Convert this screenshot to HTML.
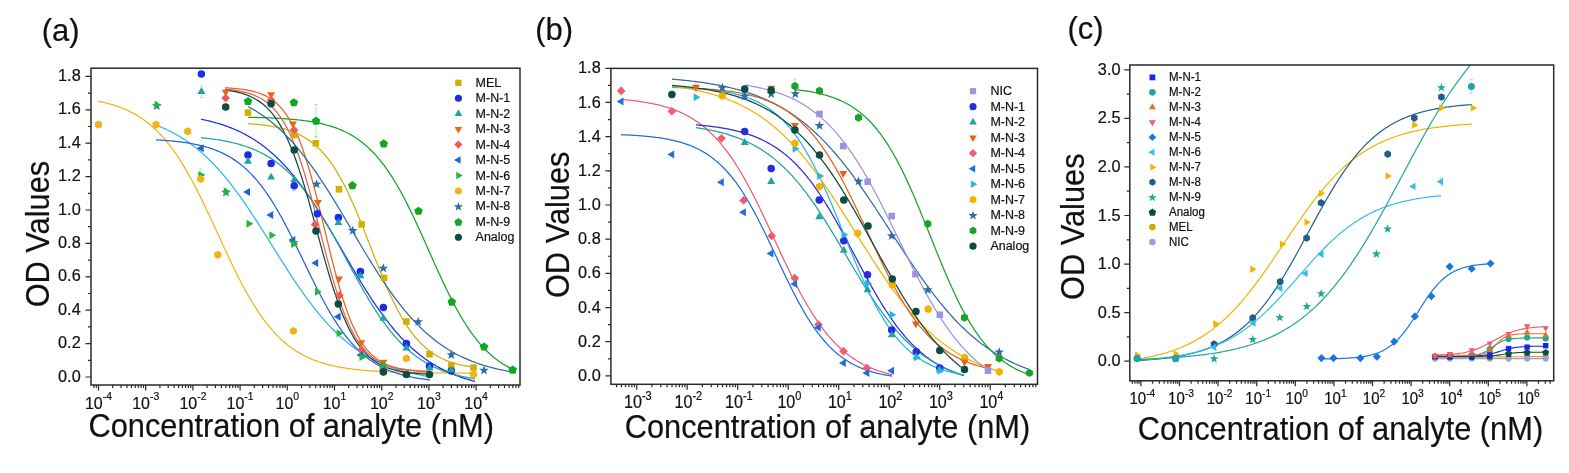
<!DOCTYPE html>
<html><head><meta charset="utf-8"><style>
html,body{margin:0;padding:0;background:#fff;width:1569px;height:473px;overflow:hidden}
svg{display:block;filter:blur(0.4px)}
text{font-family:"Liberation Sans",Arial,sans-serif;fill:#111;stroke:#111;stroke-width:0.2px}
</style></head><body>
<svg width="1569" height="473" viewBox="0 0 1569 473">
<clipPath id="ca"><rect x="91" y="68.2" width="429" height="316.8"/></clipPath>
<g clip-path="url(#ca)">
<path d="M98.00,101.22 L99.50,101.52 L101.00,101.83 L102.50,102.16 L104.00,102.50 L105.50,102.86 L107.00,103.23 L108.50,103.63 L110.00,104.04 L111.50,104.46 L113.00,104.91 L114.50,105.38 L116.00,105.86 L117.50,106.37 L119.00,106.90 L120.50,107.46 L122.00,108.04 L123.50,108.64 L125.00,109.27 L126.50,109.92 L128.00,110.61 L129.50,111.32 L131.00,112.07 L132.50,112.84 L134.00,113.65 L135.50,114.49 L137.00,115.37 L138.50,116.28 L140.00,117.22 L141.50,118.21 L143.00,119.24 L144.50,120.30 L146.00,121.41 L147.50,122.56 L149.00,123.75 L150.50,124.99 L152.00,126.28 L153.50,127.61 L155.00,128.99 L156.50,130.43 L158.00,131.91 L159.50,133.44 L161.00,135.03 L162.50,136.67 L164.00,138.37 L165.50,140.12 L167.00,141.93 L168.50,143.79 L170.00,145.72 L171.50,147.70 L173.00,149.74 L174.50,151.83 L176.00,153.99 L177.50,156.21 L179.00,158.48 L180.50,160.81 L182.00,163.21 L183.50,165.66 L185.00,168.16 L186.50,170.72 L188.00,173.34 L189.50,176.01 L191.00,178.74 L192.50,181.51 L194.00,184.34 L195.50,187.21 L197.00,190.13 L198.50,193.09 L200.00,196.10 L201.50,199.14 L203.00,202.22 L204.50,205.33 L206.00,208.47 L207.50,211.64 L209.00,214.83 L210.50,218.05 L212.00,221.28 L213.50,224.52 L215.00,227.77 L216.50,231.04 L218.00,234.30 L219.50,237.57 L221.00,240.83 L222.50,244.08 L224.00,247.32 L225.50,250.55 L227.00,253.76 L228.50,256.95 L230.00,260.11 L231.50,263.25 L233.00,266.35 L234.50,269.42 L236.00,272.46 L237.50,275.45 L239.00,278.41 L240.50,281.32 L242.00,284.18 L243.50,287.00 L245.00,289.77 L246.50,292.48 L248.00,295.14 L249.50,297.75 L251.00,300.30 L252.50,302.80 L254.00,305.24 L255.50,307.62 L257.00,309.94 L258.50,312.20 L260.00,314.41 L261.50,316.55 L263.00,318.64 L264.50,320.67 L266.00,322.64 L267.50,324.55 L269.00,326.41 L270.50,328.20 L272.00,329.94 L273.50,331.63 L275.00,333.26 L276.50,334.84 L278.00,336.36 L279.50,337.84 L281.00,339.26 L282.50,340.63 L284.00,341.96 L285.50,343.23 L287.00,344.46 L288.50,345.65 L290.00,346.79 L291.50,347.89 L293.00,348.95 L294.50,349.97 L296.00,350.95 L297.50,351.89 L299.00,352.79 L300.50,353.66 L302.00,354.49 L303.50,355.30 L305.00,356.06 L306.50,356.80 L308.00,357.51 L309.50,358.19 L311.00,358.84 L312.50,359.47 L314.00,360.06 L315.50,360.64 L317.00,361.19 L318.50,361.72 L320.00,362.22 L321.50,362.70 L323.00,363.17 L324.50,363.61 L326.00,364.03 L327.50,364.44 L329.00,364.83 L330.50,365.20 L332.00,365.55 L333.50,365.89 L335.00,366.22 L336.50,366.53 L338.00,366.83 L339.50,367.11 L341.00,367.38 L342.50,367.64 L344.00,367.89 L345.50,368.13 L347.00,368.36 L348.50,368.57 L350.00,368.78 L351.50,368.98 L353.00,369.17 L354.50,369.35 L356.00,369.52 L357.50,369.69 L359.00,369.85 L360.50,370.00 L362.00,370.14 L363.50,370.28 L365.00,370.41 L366.50,370.54 L368.00,370.66 L369.50,370.77 L371.00,370.88 L372.50,370.98 L374.00,371.08 L375.50,371.18 L377.00,371.27 L378.50,371.36 L380.00,371.44 L381.50,371.52 L383.00,371.59 L384.50,371.66 L386.00,371.73 L387.50,371.80 L389.00,371.86 L390.50,371.92 L392.00,371.98 L393.50,372.03 L395.00,372.08 L396.50,372.13 L398.00,372.18 L399.50,372.23 L401.00,372.27 L402.50,372.31 L404.00,372.35 L405.50,372.39 L407.00,372.42 L408.50,372.46 L410.00,372.49 L411.50,372.52 L413.00,372.55 L414.50,372.58 L416.00,372.61 L417.50,372.63 L419.00,372.66 L420.50,372.68 L422.00,372.70 L423.50,372.73 L425.00,372.75 L426.50,372.77 L428.00,372.78 L429.50,372.80 L431.00,372.82 L432.50,372.83 L434.00,372.85 L435.50,372.87 L437.00,372.88 L438.50,372.89 L440.00,372.91 L441.50,372.92 L443.00,372.93 L444.50,372.94 L446.00,372.95 L447.50,372.96 L449.00,372.97 L450.50,372.98 L452.00,372.99 L453.50,373.00 L455.00,373.01 L456.50,373.01 L458.00,373.02 L459.50,373.03 L461.00,373.03 L462.50,373.04 L464.00,373.05 L465.50,373.05 L467.00,373.06 L468.50,373.06 L470.00,373.07 L471.50,373.07 L473.00,373.08 L474.50,373.08 L475.00,373.08" fill="none" stroke="#F2B318" stroke-width="1.25"/>
<path d="M156.00,125.05 L157.50,125.63 L159.00,126.23 L160.50,126.85 L162.00,127.48 L163.50,128.14 L165.00,128.81 L166.50,129.50 L168.00,130.22 L169.50,130.95 L171.00,131.71 L172.50,132.49 L174.00,133.29 L175.50,134.11 L177.00,134.96 L178.50,135.83 L180.00,136.73 L181.50,137.65 L183.00,138.60 L184.50,139.57 L186.00,140.57 L187.50,141.59 L189.00,142.64 L190.50,143.72 L192.00,144.83 L193.50,145.97 L195.00,147.13 L196.50,148.33 L198.00,149.55 L199.50,150.80 L201.00,152.09 L202.50,153.40 L204.00,154.75 L205.50,156.12 L207.00,157.53 L208.50,158.97 L210.00,160.44 L211.50,161.95 L213.00,163.48 L214.50,165.05 L216.00,166.65 L217.50,168.28 L219.00,169.94 L220.50,171.64 L222.00,173.36 L223.50,175.12 L225.00,176.91 L226.50,178.73 L228.00,180.59 L229.50,182.47 L231.00,184.38 L232.50,186.32 L234.00,188.30 L235.50,190.30 L237.00,192.32 L238.50,194.38 L240.00,196.46 L241.50,198.57 L243.00,200.70 L244.50,202.86 L246.00,205.04 L247.50,207.25 L249.00,209.47 L250.50,211.72 L252.00,213.98 L253.50,216.26 L255.00,218.56 L256.50,220.88 L258.00,223.21 L259.50,225.55 L261.00,227.90 L262.50,230.27 L264.00,232.64 L265.50,235.03 L267.00,237.41 L268.50,239.81 L270.00,242.20 L271.50,244.60 L273.00,247.00 L274.50,249.40 L276.00,251.80 L277.50,254.19 L279.00,256.57 L280.50,258.96 L282.00,261.33 L283.50,263.69 L285.00,266.04 L286.50,268.38 L288.00,270.71 L289.50,273.02 L291.00,275.32 L292.50,277.60 L294.00,279.86 L295.50,282.10 L297.00,284.32 L298.50,286.52 L300.00,288.70 L301.50,290.85 L303.00,292.98 L304.50,295.09 L306.00,297.17 L307.50,299.22 L309.00,301.24 L310.50,303.24 L312.00,305.20 L313.50,307.14 L315.00,309.05 L316.50,310.93 L318.00,312.77 L319.50,314.59 L321.00,316.37 L322.50,318.13 L324.00,319.85 L325.50,321.54 L327.00,323.20 L328.50,324.82 L330.00,326.42 L331.50,327.98 L333.00,329.51 L334.50,331.00 L336.00,332.47 L337.50,333.90 L339.00,335.31 L340.50,336.68 L342.00,338.02 L343.50,339.33 L345.00,340.61 L346.50,341.86 L348.00,343.07 L349.50,344.26 L351.00,345.42 L352.50,346.56 L354.00,347.66 L355.50,348.73 L357.00,349.78 L358.50,350.80 L360.00,351.80 L361.50,352.76 L363.00,353.70 L364.50,354.62 L366.00,355.51 L367.50,356.38 L369.00,357.22 L370.50,358.04 L372.00,358.84 L373.50,359.62 L375.00,360.37 L376.50,361.10 L378.00,361.81 L379.50,362.50 L381.00,363.17 L382.50,363.82 L384.00,364.45 L385.50,365.07 L387.00,365.66 L388.50,366.24 L390.00,366.80 L391.50,367.34 L393.00,367.87 L394.50,368.38 L396.00,368.87 L397.50,369.35 L399.00,369.82 L400.50,370.27 L402.00,370.71 L403.50,371.13 L405.00,371.54 L406.50,371.94 L408.00,372.32 L409.50,372.70 L411.00,373.06 L412.50,373.41 L414.00,373.75 L415.50,374.08 L417.00,374.39 L418.50,374.70 L420.00,375.00 L421.50,375.29 L423.00,375.57 L424.50,375.84 L426.00,376.10 L427.50,376.35 L429.00,376.59 L430.00,376.75" fill="none" stroke="#2DB8E8" stroke-width="1.25"/>
<path d="M156.00,139.83 L157.50,139.91 L159.00,140.00 L160.50,140.10 L162.00,140.20 L163.50,140.31 L165.00,140.42 L166.50,140.53 L168.00,140.66 L169.50,140.78 L171.00,140.92 L172.50,141.06 L174.00,141.21 L175.50,141.37 L177.00,141.53 L178.50,141.70 L180.00,141.89 L181.50,142.08 L183.00,142.28 L184.50,142.49 L186.00,142.71 L187.50,142.94 L189.00,143.19 L190.50,143.44 L192.00,143.71 L193.50,143.99 L195.00,144.29 L196.50,144.60 L198.00,144.93 L199.50,145.27 L201.00,145.63 L202.50,146.00 L204.00,146.40 L205.50,146.81 L207.00,147.24 L208.50,147.70 L210.00,148.17 L211.50,148.67 L213.00,149.19 L214.50,149.74 L216.00,150.31 L217.50,150.91 L219.00,151.54 L220.50,152.20 L222.00,152.88 L223.50,153.60 L225.00,154.35 L226.50,155.14 L228.00,155.96 L229.50,156.81 L231.00,157.70 L232.50,158.64 L234.00,159.61 L235.50,160.62 L237.00,161.68 L238.50,162.78 L240.00,163.92 L241.50,165.12 L243.00,166.36 L244.50,167.65 L246.00,168.99 L247.50,170.38 L249.00,171.83 L250.50,173.33 L252.00,174.89 L253.50,176.50 L255.00,178.17 L256.50,179.89 L258.00,181.68 L259.50,183.52 L261.00,185.43 L262.50,187.39 L264.00,189.42 L265.50,191.50 L267.00,193.65 L268.50,195.86 L270.00,198.12 L271.50,200.45 L273.00,202.84 L274.50,205.28 L276.00,207.78 L277.50,210.33 L279.00,212.94 L280.50,215.60 L282.00,218.31 L283.50,221.07 L285.00,223.88 L286.50,226.73 L288.00,229.61 L289.50,232.54 L291.00,235.50 L292.50,238.49 L294.00,241.51 L295.50,244.55 L297.00,247.61 L298.50,250.69 L300.00,253.78 L301.50,256.88 L303.00,259.99 L304.50,263.09 L306.00,266.20 L307.50,269.29 L309.00,272.38 L310.50,275.45 L312.00,278.50 L313.50,281.53 L315.00,284.53 L316.50,287.51 L318.00,290.45 L319.50,293.35 L321.00,296.22 L322.50,299.04 L324.00,301.82 L325.50,304.56 L327.00,307.24 L328.50,309.87 L330.00,312.45 L331.50,314.97 L333.00,317.44 L334.50,319.85 L336.00,322.21 L337.50,324.50 L339.00,326.74 L340.50,328.91 L342.00,331.02 L343.50,333.07 L345.00,335.07 L346.50,337.00 L348.00,338.87 L349.50,340.68 L351.00,342.43 L352.50,344.13 L354.00,345.77 L355.50,347.35 L357.00,348.87 L358.50,350.34 L360.00,351.76 L361.50,353.12 L363.00,354.44 L364.50,355.70 L366.00,356.91 L367.50,358.08 L369.00,359.20 L370.50,360.28 L372.00,361.31 L373.50,362.30 L375.00,363.25 L376.50,364.16 L378.00,365.03 L379.50,365.87 L381.00,366.67 L382.50,367.43 L384.00,368.16 L385.50,368.86 L387.00,369.53 L388.50,370.17 L390.00,370.79 L391.50,371.37 L393.00,371.93 L394.50,372.46 L396.00,372.97 L397.50,373.46 L399.00,373.92 L400.50,374.36 L402.00,374.79 L403.50,375.19 L405.00,375.57 L406.50,375.94 L408.00,376.29 L409.50,376.62 L411.00,376.94 L412.50,377.24 L414.00,377.53 L415.50,377.80 L417.00,378.07 L418.50,378.31 L420.00,378.55 L421.50,378.78 L423.00,378.99 L424.50,379.20 L426.00,379.39 L427.50,379.58 L429.00,379.76 L430.00,379.87" fill="none" stroke="#1F63D6" stroke-width="1.25"/>
<path d="M201.00,119.18 L202.50,119.49 L204.00,119.81 L205.50,120.14 L207.00,120.49 L208.50,120.84 L210.00,121.21 L211.50,121.59 L213.00,121.98 L214.50,122.39 L216.00,122.81 L217.50,123.25 L219.00,123.70 L220.50,124.16 L222.00,124.64 L223.50,125.14 L225.00,125.65 L226.50,126.18 L228.00,126.73 L229.50,127.30 L231.00,127.88 L232.50,128.49 L234.00,129.11 L235.50,129.75 L237.00,130.42 L238.50,131.10 L240.00,131.81 L241.50,132.54 L243.00,133.29 L244.50,134.07 L246.00,134.87 L247.50,135.69 L249.00,136.54 L250.50,137.42 L252.00,138.32 L253.50,139.25 L255.00,140.21 L256.50,141.19 L258.00,142.20 L259.50,143.24 L261.00,144.32 L262.50,145.42 L264.00,146.55 L265.50,147.71 L267.00,148.91 L268.50,150.14 L270.00,151.40 L271.50,152.69 L273.00,154.02 L274.50,155.38 L276.00,156.78 L277.50,158.21 L279.00,159.67 L280.50,161.17 L282.00,162.71 L283.50,164.28 L285.00,165.89 L286.50,167.54 L288.00,169.22 L289.50,170.93 L291.00,172.69 L292.50,174.48 L294.00,176.30 L295.50,178.16 L297.00,180.06 L298.50,181.99 L300.00,183.96 L301.50,185.96 L303.00,188.00 L304.50,190.07 L306.00,192.18 L307.50,194.31 L309.00,196.48 L310.50,198.68 L312.00,200.91 L313.50,203.17 L315.00,205.46 L316.50,207.78 L318.00,210.12 L319.50,212.48 L321.00,214.88 L322.50,217.29 L324.00,219.73 L325.50,222.18 L327.00,224.66 L328.50,227.15 L330.00,229.65 L331.50,232.18 L333.00,234.71 L334.50,237.25 L336.00,239.81 L337.50,242.37 L339.00,244.94 L340.50,247.51 L342.00,250.09 L343.50,252.66 L345.00,255.24 L346.50,257.81 L348.00,260.38 L349.50,262.94 L351.00,265.49 L352.50,268.04 L354.00,270.57 L355.50,273.09 L357.00,275.60 L358.50,278.09 L360.00,280.57 L361.50,283.02 L363.00,285.46 L364.50,287.87 L366.00,290.26 L367.50,292.63 L369.00,294.97 L370.50,297.28 L372.00,299.57 L373.50,301.83 L375.00,304.06 L376.50,306.26 L378.00,308.43 L379.50,310.56 L381.00,312.67 L382.50,314.74 L384.00,316.77 L385.50,318.78 L387.00,320.74 L388.50,322.68 L390.00,324.57 L391.50,326.43 L393.00,328.26 L394.50,330.05 L396.00,331.80 L397.50,333.52 L399.00,335.20 L400.50,336.84 L402.00,338.45 L403.50,340.02 L405.00,341.56 L406.50,343.06 L408.00,344.52 L409.50,345.95 L411.00,347.35 L412.50,348.71 L414.00,350.03 L415.50,351.33 L417.00,352.59 L418.50,353.81 L420.00,355.01 L421.50,356.17 L423.00,357.30 L424.50,358.41 L426.00,359.48 L427.50,360.52 L429.00,361.53 L430.50,362.51 L432.00,363.47 L433.50,364.40 L435.00,365.30 L436.50,366.17 L438.00,367.02 L439.50,367.85 L441.00,368.65 L442.50,369.42 L444.00,370.17 L445.50,370.90 L447.00,371.61 L448.50,372.30 L450.00,372.96 L451.50,373.60 L453.00,374.23 L454.50,374.83 L456.00,375.41 L457.50,375.98 L459.00,376.53 L460.50,377.06 L462.00,377.57 L463.50,378.07 L465.00,378.55 L466.50,379.01 L468.00,379.46 L469.50,379.90 L471.00,380.32 L472.50,380.73 L474.00,381.12 L475.00,381.37" fill="none" stroke="#1A2EE8" stroke-width="1.25"/>
<path d="M201.00,137.72 L202.50,137.87 L204.00,138.02 L205.50,138.18 L207.00,138.35 L208.50,138.53 L210.00,138.71 L211.50,138.90 L213.00,139.10 L214.50,139.31 L216.00,139.52 L217.50,139.75 L219.00,139.99 L220.50,140.23 L222.00,140.49 L223.50,140.76 L225.00,141.04 L226.50,141.33 L228.00,141.64 L229.50,141.96 L231.00,142.29 L232.50,142.63 L234.00,142.99 L235.50,143.37 L237.00,143.76 L238.50,144.17 L240.00,144.60 L241.50,145.04 L243.00,145.50 L244.50,145.98 L246.00,146.48 L247.50,147.00 L249.00,147.55 L250.50,148.11 L252.00,148.70 L253.50,149.31 L255.00,149.95 L256.50,150.61 L258.00,151.29 L259.50,152.01 L261.00,152.75 L262.50,153.52 L264.00,154.32 L265.50,155.15 L267.00,156.02 L268.50,156.91 L270.00,157.84 L271.50,158.80 L273.00,159.80 L274.50,160.83 L276.00,161.90 L277.50,163.01 L279.00,164.16 L280.50,165.35 L282.00,166.58 L283.50,167.84 L285.00,169.16 L286.50,170.51 L288.00,171.91 L289.50,173.35 L291.00,174.84 L292.50,176.37 L294.00,177.95 L295.50,179.57 L297.00,181.24 L298.50,182.96 L300.00,184.73 L301.50,186.55 L303.00,188.41 L304.50,190.32 L306.00,192.28 L307.50,194.28 L309.00,196.33 L310.50,198.43 L312.00,200.58 L313.50,202.77 L315.00,205.00 L316.50,207.28 L318.00,209.60 L319.50,211.96 L321.00,214.37 L322.50,216.81 L324.00,219.29 L325.50,221.81 L327.00,224.35 L328.50,226.94 L330.00,229.55 L331.50,232.19 L333.00,234.85 L334.50,237.54 L336.00,240.25 L337.50,242.98 L339.00,245.72 L340.50,248.48 L342.00,251.24 L343.50,254.02 L345.00,256.80 L346.50,259.58 L348.00,262.37 L349.50,265.15 L351.00,267.92 L352.50,270.68 L354.00,273.44 L355.50,276.18 L357.00,278.90 L358.50,281.61 L360.00,284.29 L361.50,286.95 L363.00,289.59 L364.50,292.19 L366.00,294.77 L367.50,297.31 L369.00,299.82 L370.50,302.29 L372.00,304.72 L373.50,307.12 L375.00,309.47 L376.50,311.79 L378.00,314.06 L379.50,316.28 L381.00,318.46 L382.50,320.60 L384.00,322.69 L385.50,324.73 L387.00,326.73 L388.50,328.68 L390.00,330.58 L391.50,332.43 L393.00,334.23 L394.50,335.99 L396.00,337.70 L397.50,339.36 L399.00,340.98 L400.50,342.55 L402.00,344.07 L403.50,345.55 L405.00,346.98 L406.50,348.37 L408.00,349.72 L409.50,351.02 L411.00,352.28 L412.50,353.50 L414.00,354.68 L415.50,355.82 L417.00,356.92 L418.50,357.98 L420.00,359.01 L421.50,360.00 L423.00,360.96 L424.50,361.88 L426.00,362.77 L427.50,363.62 L429.00,364.45 L430.50,365.24 L432.00,366.01 L433.50,366.74 L435.00,367.45 L436.50,368.13 L438.00,368.79 L439.50,369.42 L441.00,370.03 L442.50,370.61 L444.00,371.17 L445.50,371.71 L447.00,372.23 L448.50,372.72 L450.00,373.20 L451.50,373.66 L453.00,374.10 L454.50,374.52 L456.00,374.92 L457.50,375.31 L459.00,375.69 L460.50,376.04 L462.00,376.39 L463.50,376.72 L465.00,377.03 L466.50,377.33 L468.00,377.62 L469.50,377.90 L471.00,378.17 L472.50,378.42 L474.00,378.67 L475.00,378.83" fill="none" stroke="#1FA3A3" stroke-width="1.25"/>
<path d="M248.00,117.25 L249.50,117.28 L251.00,117.31 L252.50,117.35 L254.00,117.39 L255.50,117.42 L257.00,117.47 L258.50,117.51 L260.00,117.55 L261.50,117.60 L263.00,117.65 L264.50,117.70 L266.00,117.76 L267.50,117.81 L269.00,117.88 L270.50,117.94 L272.00,118.01 L273.50,118.08 L275.00,118.15 L276.50,118.23 L278.00,118.31 L279.50,118.40 L281.00,118.49 L282.50,118.58 L284.00,118.68 L285.50,118.79 L287.00,118.90 L288.50,119.01 L290.00,119.13 L291.50,119.26 L293.00,119.40 L294.50,119.54 L296.00,119.69 L297.50,119.84 L299.00,120.00 L300.50,120.18 L302.00,120.36 L303.50,120.55 L305.00,120.75 L306.50,120.96 L308.00,121.17 L309.50,121.41 L311.00,121.65 L312.50,121.90 L314.00,122.17 L315.50,122.45 L317.00,122.74 L318.50,123.05 L320.00,123.37 L321.50,123.71 L323.00,124.07 L324.50,124.44 L326.00,124.83 L327.50,125.24 L329.00,125.67 L330.50,126.13 L332.00,126.60 L333.50,127.09 L335.00,127.61 L336.50,128.16 L338.00,128.72 L339.50,129.32 L341.00,129.94 L342.50,130.60 L344.00,131.28 L345.50,131.99 L347.00,132.74 L348.50,133.52 L350.00,134.33 L351.50,135.19 L353.00,136.08 L354.50,137.01 L356.00,137.98 L357.50,138.99 L359.00,140.04 L360.50,141.14 L362.00,142.29 L363.50,143.48 L365.00,144.73 L366.50,146.02 L368.00,147.36 L369.50,148.76 L371.00,150.22 L372.50,151.73 L374.00,153.29 L375.50,154.92 L377.00,156.60 L378.50,158.35 L380.00,160.16 L381.50,162.03 L383.00,163.96 L384.50,165.95 L386.00,168.02 L387.50,170.14 L389.00,172.34 L390.50,174.59 L392.00,176.92 L393.50,179.30 L395.00,181.76 L396.50,184.27 L398.00,186.86 L399.50,189.50 L401.00,192.20 L402.50,194.97 L404.00,197.79 L405.50,200.67 L407.00,203.61 L408.50,206.60 L410.00,209.63 L411.50,212.72 L413.00,215.84 L414.50,219.01 L416.00,222.22 L417.50,225.46 L419.00,228.73 L420.50,232.03 L422.00,235.36 L423.50,238.70 L425.00,242.05 L426.50,245.42 L428.00,248.79 L429.50,252.17 L431.00,255.54 L432.50,258.91 L434.00,262.26 L435.50,265.60 L437.00,268.92 L438.50,272.22 L440.00,275.49 L441.50,278.74 L443.00,281.94 L444.50,285.11 L446.00,288.24 L447.50,291.32 L449.00,294.36 L450.50,297.35 L452.00,300.28 L453.50,303.16 L455.00,305.98 L456.50,308.75 L458.00,311.45 L459.50,314.10 L461.00,316.68 L462.50,319.20 L464.00,321.65 L465.50,324.04 L467.00,326.36 L468.50,328.62 L470.00,330.81 L471.50,332.93 L473.00,335.00 L474.50,336.99 L476.00,338.92 L477.50,340.79 L479.00,342.60 L480.50,344.35 L482.00,346.03 L483.50,347.65 L485.00,349.22 L486.50,350.73 L488.00,352.18 L489.50,353.58 L491.00,354.93 L492.50,356.22 L494.00,357.46 L495.50,358.66 L497.00,359.80 L498.50,360.90 L500.00,361.96 L501.50,362.97 L503.00,363.94 L504.50,364.87 L506.00,365.76 L507.50,366.61 L509.00,367.42 L510.50,368.20 L512.00,368.95 L513.00,369.43" fill="none" stroke="#12A622" stroke-width="1.25"/>
<path d="M248.00,123.69 L249.50,123.79 L251.00,123.90 L252.50,124.01 L254.00,124.13 L255.50,124.25 L257.00,124.39 L258.50,124.53 L260.00,124.68 L261.50,124.84 L263.00,125.01 L264.50,125.20 L266.00,125.39 L267.50,125.59 L269.00,125.81 L270.50,126.05 L272.00,126.29 L273.50,126.55 L275.00,126.83 L276.50,127.13 L278.00,127.44 L279.50,127.77 L281.00,128.12 L282.50,128.50 L284.00,128.89 L285.50,129.31 L287.00,129.76 L288.50,130.23 L290.00,130.73 L291.50,131.26 L293.00,131.83 L294.50,132.42 L296.00,133.05 L297.50,133.72 L299.00,134.42 L300.50,135.17 L302.00,135.96 L303.50,136.79 L305.00,137.67 L306.50,138.60 L308.00,139.58 L309.50,140.62 L311.00,141.71 L312.50,142.86 L314.00,144.07 L315.50,145.35 L317.00,146.69 L318.50,148.10 L320.00,149.58 L321.50,151.13 L323.00,152.76 L324.50,154.47 L326.00,156.25 L327.50,158.12 L329.00,160.08 L330.50,162.12 L332.00,164.25 L333.50,166.47 L335.00,168.77 L336.50,171.17 L338.00,173.66 L339.50,176.25 L341.00,178.92 L342.50,181.69 L344.00,184.55 L345.50,187.50 L347.00,190.53 L348.50,193.66 L350.00,196.86 L351.50,200.15 L353.00,203.51 L354.50,206.95 L356.00,210.45 L357.50,214.02 L359.00,217.65 L360.50,221.33 L362.00,225.05 L363.50,228.82 L365.00,232.61 L366.50,236.44 L368.00,240.28 L369.50,244.14 L371.00,248.00 L372.50,251.85 L374.00,255.70 L375.50,259.53 L377.00,263.33 L378.50,267.11 L380.00,270.84 L381.50,274.53 L383.00,278.16 L384.50,281.74 L386.00,285.26 L387.50,288.71 L389.00,292.08 L390.50,295.38 L392.00,298.60 L393.50,301.74 L395.00,304.79 L396.50,307.76 L398.00,310.63 L399.50,313.42 L401.00,316.11 L402.50,318.71 L404.00,321.22 L405.50,323.63 L407.00,325.96 L408.50,328.19 L410.00,330.34 L411.50,332.39 L413.00,334.36 L414.50,336.25 L416.00,338.05 L417.50,339.77 L419.00,341.41 L420.50,342.98 L422.00,344.47 L423.50,345.90 L425.00,347.25 L426.50,348.54 L428.00,349.76 L429.50,350.92 L431.00,352.02 L432.50,353.07 L434.00,354.06 L435.50,355.00 L437.00,355.88 L438.50,356.73 L440.00,357.52 L441.50,358.28 L443.00,358.99 L444.50,359.66 L446.00,360.30 L447.50,360.90 L449.00,361.47 L450.50,362.01 L452.00,362.51 L453.50,362.99 L455.00,363.44 L456.50,363.87 L458.00,364.27 L459.50,364.64 L461.00,365.00 L462.50,365.34 L464.00,365.65 L465.50,365.95 L467.00,366.23 L468.50,366.49 L470.00,366.74 L471.50,366.98 L473.00,367.20 L474.00,367.34" fill="none" stroke="#D0B000" stroke-width="1.25"/>
<path d="M225.00,87.80 L226.50,87.88 L228.00,87.97 L229.50,88.06 L231.00,88.16 L232.50,88.27 L234.00,88.39 L235.50,88.52 L237.00,88.67 L238.50,88.82 L240.00,89.00 L241.50,89.18 L243.00,89.38 L244.50,89.61 L246.00,89.85 L247.50,90.11 L249.00,90.39 L250.50,90.70 L252.00,91.04 L253.50,91.41 L255.00,91.81 L256.50,92.25 L258.00,92.72 L259.50,93.24 L261.00,93.80 L262.50,94.41 L264.00,95.07 L265.50,95.79 L267.00,96.57 L268.50,97.42 L270.00,98.33 L271.50,99.33 L273.00,100.40 L274.50,101.57 L276.00,102.83 L277.50,104.19 L279.00,105.66 L280.50,107.25 L282.00,108.96 L283.50,110.80 L285.00,112.78 L286.50,114.90 L288.00,117.18 L289.50,119.62 L291.00,122.24 L292.50,125.02 L294.00,128.00 L295.50,131.16 L297.00,134.52 L298.50,138.08 L300.00,141.85 L301.50,145.82 L303.00,150.01 L304.50,154.40 L306.00,158.99 L307.50,163.79 L309.00,168.79 L310.50,173.98 L312.00,179.34 L313.50,184.88 L315.00,190.56 L316.50,196.38 L318.00,202.33 L319.50,208.37 L321.00,214.49 L322.50,220.66 L324.00,226.87 L325.50,233.09 L327.00,239.30 L328.50,245.47 L330.00,251.58 L331.50,257.60 L333.00,263.53 L334.50,269.33 L336.00,274.99 L337.50,280.50 L339.00,285.84 L340.50,290.99 L342.00,295.96 L343.50,300.72 L345.00,305.29 L346.50,309.65 L348.00,313.79 L349.50,317.73 L351.00,321.47 L352.50,325.00 L354.00,328.32 L355.50,331.46 L357.00,334.40 L358.50,337.16 L360.00,339.74 L361.50,342.16 L363.00,344.41 L364.50,346.51 L366.00,348.47 L367.50,350.29 L369.00,351.98 L370.50,353.54 L372.00,355.00 L373.50,356.34 L375.00,357.58 L376.50,358.73 L378.00,359.80 L379.50,360.78 L381.00,361.68 L382.50,362.52 L384.00,363.29 L385.50,364.00 L387.00,364.65 L388.50,365.25 L390.00,365.81 L391.50,366.32 L393.00,366.78 L394.50,367.21 L396.00,367.61 L397.50,367.97 L399.00,368.31 L400.50,368.61 L402.00,368.89 L403.50,369.15 L405.00,369.39 L406.50,369.61 L408.00,369.81 L409.50,369.99 L411.00,370.16 L412.50,370.31 L414.00,370.46 L415.50,370.59 L417.00,370.71 L418.50,370.82 L420.00,370.92 L421.50,371.01 L423.00,371.09 L424.50,371.17 L426.00,371.24 L427.50,371.31 L429.00,371.36 L430.00,371.40" fill="none" stroke="#E8661A" stroke-width="1.25"/>
<path d="M225.00,89.24 L226.50,89.37 L228.00,89.51 L229.50,89.67 L231.00,89.84 L232.50,90.02 L234.00,90.22 L235.50,90.44 L237.00,90.67 L238.50,90.93 L240.00,91.20 L241.50,91.50 L243.00,91.82 L244.50,92.17 L246.00,92.55 L247.50,92.96 L249.00,93.40 L250.50,93.88 L252.00,94.40 L253.50,94.97 L255.00,95.57 L256.50,96.23 L258.00,96.94 L259.50,97.71 L261.00,98.53 L262.50,99.43 L264.00,100.39 L265.50,101.43 L267.00,102.55 L268.50,103.75 L270.00,105.05 L271.50,106.44 L273.00,107.94 L274.50,109.54 L276.00,111.26 L277.50,113.10 L279.00,115.08 L280.50,117.19 L282.00,119.44 L283.50,121.83 L285.00,124.39 L286.50,127.10 L288.00,129.98 L289.50,133.04 L291.00,136.27 L292.50,139.68 L294.00,143.27 L295.50,147.05 L297.00,151.01 L298.50,155.16 L300.00,159.49 L301.50,164.00 L303.00,168.69 L304.50,173.55 L306.00,178.57 L307.50,183.74 L309.00,189.05 L310.50,194.48 L312.00,200.04 L313.50,205.68 L315.00,211.41 L316.50,217.20 L318.00,223.04 L319.50,228.90 L321.00,234.76 L322.50,240.60 L324.00,246.41 L325.50,252.17 L327.00,257.85 L328.50,263.44 L330.00,268.93 L331.50,274.29 L333.00,279.52 L334.50,284.60 L336.00,289.52 L337.50,294.28 L339.00,298.86 L340.50,303.26 L342.00,307.49 L343.50,311.52 L345.00,315.37 L346.50,319.04 L348.00,322.52 L349.50,325.82 L351.00,328.94 L352.50,331.89 L354.00,334.67 L355.50,337.29 L357.00,339.75 L358.50,342.06 L360.00,344.22 L361.50,346.25 L363.00,348.14 L364.50,349.91 L366.00,351.56 L367.50,353.10 L369.00,354.53 L370.50,355.87 L372.00,357.11 L373.50,358.26 L375.00,359.33 L376.50,360.32 L378.00,361.24 L379.50,362.09 L381.00,362.88 L382.50,363.62 L384.00,364.29 L385.50,364.92 L387.00,365.50 L388.50,366.04 L390.00,366.53 L391.50,366.99 L393.00,367.41 L394.50,367.80 L396.00,368.16 L397.50,368.50 L399.00,368.81 L400.50,369.09 L402.00,369.35 L403.50,369.59 L405.00,369.82 L406.50,370.02 L408.00,370.21 L409.50,370.39 L411.00,370.55 L412.50,370.70 L414.00,370.83 L415.50,370.96 L417.00,371.08 L418.50,371.18 L420.00,371.28 L421.50,371.37 L423.00,371.46 L424.50,371.53 L426.00,371.60 L427.50,371.67 L429.00,371.73 L430.00,371.77" fill="none" stroke="#F25A5A" stroke-width="1.25"/>
<path d="M225.00,89.93 L226.50,90.13 L228.00,90.35 L229.50,90.58 L231.00,90.83 L232.50,91.10 L234.00,91.39 L235.50,91.70 L237.00,92.04 L238.50,92.40 L240.00,92.80 L241.50,93.22 L243.00,93.67 L244.50,94.16 L246.00,94.69 L247.50,95.26 L249.00,95.87 L250.50,96.52 L252.00,97.23 L253.50,97.98 L255.00,98.80 L256.50,99.67 L258.00,100.61 L259.50,101.62 L261.00,102.69 L262.50,103.85 L264.00,105.09 L265.50,106.41 L267.00,107.83 L268.50,109.34 L270.00,110.96 L271.50,112.68 L273.00,114.52 L274.50,116.47 L276.00,118.55 L277.50,120.76 L279.00,123.10 L280.50,125.59 L282.00,128.22 L283.50,130.99 L285.00,133.93 L286.50,137.02 L288.00,140.27 L289.50,143.68 L291.00,147.25 L292.50,151.00 L294.00,154.90 L295.50,158.97 L297.00,163.20 L298.50,167.59 L300.00,172.13 L301.50,176.82 L303.00,181.64 L304.50,186.60 L306.00,191.68 L307.50,196.86 L309.00,202.14 L310.50,207.51 L312.00,212.94 L313.50,218.43 L315.00,223.96 L316.50,229.50 L318.00,235.06 L319.50,240.60 L321.00,246.11 L322.50,251.58 L324.00,256.99 L325.50,262.33 L327.00,267.58 L328.50,272.72 L330.00,277.76 L331.50,282.67 L333.00,287.44 L334.50,292.08 L336.00,296.56 L337.50,300.89 L339.00,305.07 L340.50,309.08 L342.00,312.92 L343.50,316.60 L345.00,320.12 L346.50,323.47 L348.00,326.67 L349.50,329.70 L351.00,332.57 L352.50,335.30 L354.00,337.87 L355.50,340.30 L357.00,342.60 L358.50,344.76 L360.00,346.79 L361.50,348.70 L363.00,350.50 L364.50,352.18 L366.00,353.76 L367.50,355.23 L369.00,356.62 L370.50,357.91 L372.00,359.12 L373.50,360.24 L375.00,361.29 L376.50,362.28 L378.00,363.19 L379.50,364.04 L381.00,364.83 L382.50,365.57 L384.00,366.26 L385.50,366.90 L387.00,367.49 L388.50,368.04 L390.00,368.56 L391.50,369.03 L393.00,369.48 L394.50,369.89 L396.00,370.27 L397.50,370.62 L399.00,370.95 L400.50,371.26 L402.00,371.54 L403.50,371.80 L405.00,372.04 L406.50,372.27 L408.00,372.48 L409.50,372.67 L411.00,372.85 L412.50,373.02 L414.00,373.17 L415.50,373.31 L417.00,373.45 L418.50,373.57 L420.00,373.68 L421.50,373.79 L423.00,373.89 L424.50,373.98 L426.00,374.06 L427.50,374.14 L429.00,374.21 L430.00,374.26" fill="none" stroke="#0B4D3E" stroke-width="1.25"/>
<path d="M248.00,106.46 L249.50,107.28 L251.00,108.11 L252.50,108.97 L254.00,109.86 L255.50,110.77 L257.00,111.71 L258.50,112.67 L260.00,113.65 L261.50,114.67 L263.00,115.71 L264.50,116.78 L266.00,117.87 L267.50,119.00 L269.00,120.15 L270.50,121.33 L272.00,122.55 L273.50,123.79 L275.00,125.06 L276.50,126.37 L278.00,127.70 L279.50,129.07 L281.00,130.47 L282.50,131.90 L284.00,133.36 L285.50,134.86 L287.00,136.39 L288.50,137.95 L290.00,139.54 L291.50,141.17 L293.00,142.83 L294.50,144.53 L296.00,146.25 L297.50,148.02 L299.00,149.81 L300.50,151.64 L302.00,153.50 L303.50,155.39 L305.00,157.32 L306.50,159.28 L308.00,161.27 L309.50,163.29 L311.00,165.34 L312.50,167.43 L314.00,169.54 L315.50,171.68 L317.00,173.86 L318.50,176.06 L320.00,178.28 L321.50,180.54 L323.00,182.82 L324.50,185.12 L326.00,187.45 L327.50,189.80 L329.00,192.17 L330.50,194.56 L332.00,196.97 L333.50,199.40 L335.00,201.85 L336.50,204.31 L338.00,206.79 L339.50,209.28 L341.00,211.79 L342.50,214.30 L344.00,216.82 L345.50,219.35 L347.00,221.89 L348.50,224.43 L350.00,226.97 L351.50,229.52 L353.00,232.07 L354.50,234.61 L356.00,237.15 L357.50,239.69 L359.00,242.23 L360.50,244.75 L362.00,247.27 L363.50,249.78 L365.00,252.27 L366.50,254.76 L368.00,257.23 L369.50,259.68 L371.00,262.12 L372.50,264.54 L374.00,266.94 L375.50,269.32 L377.00,271.68 L378.50,274.02 L380.00,276.34 L381.50,278.63 L383.00,280.89 L384.50,283.13 L386.00,285.35 L387.50,287.53 L389.00,289.69 L390.50,291.81 L392.00,293.91 L393.50,295.98 L395.00,298.01 L396.50,300.02 L398.00,301.99 L399.50,303.93 L401.00,305.84 L402.50,307.72 L404.00,309.56 L405.50,311.37 L407.00,313.15 L408.50,314.89 L410.00,316.60 L411.50,318.28 L413.00,319.92 L414.50,321.53 L416.00,323.11 L417.50,324.65 L419.00,326.16 L420.50,327.64 L422.00,329.09 L423.50,330.50 L425.00,331.88 L426.50,333.23 L428.00,334.55 L429.50,335.84 L431.00,337.09 L432.50,338.32 L434.00,339.52 L435.50,340.68 L437.00,341.82 L438.50,342.93 L440.00,344.01 L441.50,345.06 L443.00,346.09 L444.50,347.09 L446.00,348.06 L447.50,349.01 L449.00,349.93 L450.50,350.83 L452.00,351.70 L453.50,352.55 L455.00,353.37 L456.50,354.18 L458.00,354.96 L459.50,355.72 L461.00,356.45 L462.50,357.17 L464.00,357.86 L465.50,358.54 L467.00,359.19 L468.50,359.83 L470.00,360.45 L471.50,361.05 L473.00,361.63 L474.50,362.20 L476.00,362.75 L477.50,363.28 L479.00,363.80 L480.50,364.30 L482.00,364.78 L483.50,365.25 L485.00,365.71 L486.50,366.15 L488.00,366.58 L489.50,367.00 L491.00,367.40 L492.50,367.79 L494.00,368.17 L495.50,368.54 L497.00,368.89 L498.50,369.24 L500.00,369.57 L501.50,369.90 L503.00,370.21 L504.50,370.51 L506.00,370.81 L507.50,371.09 L509.00,371.37 L510.50,371.63 L512.00,371.89 L513.00,372.06" fill="none" stroke="#2F6CA6" stroke-width="1.25"/>
<path d="M316.10,104.60V136.60M314.10,104.60h4M314.10,136.60h4" stroke="#12A622" stroke-opacity="0.35" stroke-width="0.8" fill="none"/>
<path d="M315.80,137.30V149.30M313.80,137.30h4M313.80,149.30h4" stroke="#D0B000" stroke-opacity="0.35" stroke-width="0.8" fill="none"/>
<path d="M201.40,85.70V97.70M199.40,85.70h4M199.40,97.70h4" stroke="#1FA3A3" stroke-opacity="0.35" stroke-width="0.8" fill="none"/>
<path d="M294.20,180.80V190.80M292.20,180.80h4M292.20,190.80h4" stroke="#1A2EE8" stroke-opacity="0.35" stroke-width="0.8" fill="none"/>
<path d="M200.70,169.00V181.00M198.70,169.00h4M198.70,181.00h4" stroke="#22B83A" stroke-opacity="0.35" stroke-width="0.8" fill="none"/>
<rect x="244.72" y="109.32" width="6.56" height="6.56" fill="#D0B000"/>
<rect x="290.72" y="131.72" width="6.56" height="6.56" fill="#D0B000"/>
<rect x="312.52" y="140.02" width="6.56" height="6.56" fill="#D0B000"/>
<rect x="335.72" y="186.02" width="6.56" height="6.56" fill="#D0B000"/>
<rect x="358.32" y="221.12" width="6.56" height="6.56" fill="#D0B000"/>
<rect x="380.82" y="274.62" width="6.56" height="6.56" fill="#D0B000"/>
<rect x="403.12" y="318.22" width="6.56" height="6.56" fill="#D0B000"/>
<rect x="426.22" y="350.92" width="6.56" height="6.56" fill="#D0B000"/>
<rect x="448.02" y="362.22" width="6.56" height="6.56" fill="#D0B000"/>
<rect x="470.32" y="364.32" width="6.56" height="6.56" fill="#D0B000"/>
<circle cx="201.40" cy="74.10" r="3.77" fill="#1A2EE8"/>
<circle cx="248.00" cy="155.00" r="3.77" fill="#1A2EE8"/>
<circle cx="271.10" cy="163.40" r="3.77" fill="#1A2EE8"/>
<circle cx="294.20" cy="185.80" r="3.77" fill="#1A2EE8"/>
<circle cx="317.40" cy="213.70" r="3.77" fill="#1A2EE8"/>
<circle cx="338.40" cy="217.40" r="3.77" fill="#1A2EE8"/>
<circle cx="360.40" cy="271.60" r="3.77" fill="#1A2EE8"/>
<circle cx="383.40" cy="307.50" r="3.77" fill="#1A2EE8"/>
<circle cx="406.40" cy="343.60" r="3.77" fill="#1A2EE8"/>
<circle cx="429.50" cy="366.00" r="3.77" fill="#1A2EE8"/>
<circle cx="451.30" cy="371.00" r="3.77" fill="#1A2EE8"/>
<polygon points="201.40,87.11 205.38,94.00 197.42,94.00" fill="#1FA3A3"/>
<polygon points="248.00,156.81 251.98,163.70 244.02,163.70" fill="#1FA3A3"/>
<polygon points="271.10,172.71 275.08,179.60 267.12,179.60" fill="#1FA3A3"/>
<polygon points="294.30,175.01 298.28,181.90 290.32,181.90" fill="#1FA3A3"/>
<polygon points="338.40,218.01 342.38,224.90 334.42,224.90" fill="#1FA3A3"/>
<polygon points="360.40,271.41 364.38,278.30 356.42,278.30" fill="#1FA3A3"/>
<polygon points="383.40,313.81 387.38,320.70 379.42,320.70" fill="#1FA3A3"/>
<polygon points="406.40,343.61 410.38,350.50 402.42,350.50" fill="#1FA3A3"/>
<polygon points="429.50,363.61 433.48,370.50 425.52,370.50" fill="#1FA3A3"/>
<polygon points="451.30,365.41 455.28,372.30 447.32,372.30" fill="#1FA3A3"/>
<polygon points="225.70,96.59 221.72,89.70 229.68,89.70" fill="#E8661A"/>
<polygon points="271.10,99.09 267.12,92.20 275.08,92.20" fill="#E8661A"/>
<polygon points="292.90,128.39 288.92,121.50 296.88,121.50" fill="#E8661A"/>
<polygon points="317.90,206.89 313.92,200.00 321.88,200.00" fill="#E8661A"/>
<polygon points="338.90,283.29 334.92,276.40 342.88,276.40" fill="#E8661A"/>
<polygon points="361.30,347.09 357.32,340.20 365.28,340.20" fill="#E8661A"/>
<polygon points="383.40,366.59 379.42,359.70 387.38,359.70" fill="#E8661A"/>
<polygon points="225.70,93.75 230.05,98.10 225.70,102.45 221.35,98.10" fill="#F25A5A"/>
<polygon points="271.10,95.65 275.45,100.00 271.10,104.35 266.75,100.00" fill="#F25A5A"/>
<polygon points="294.00,125.65 298.35,130.00 294.00,134.35 289.65,130.00" fill="#F25A5A"/>
<polygon points="315.10,220.05 319.45,224.40 315.10,228.75 310.75,224.40" fill="#F25A5A"/>
<polygon points="339.40,291.05 343.75,295.40 339.40,299.75 335.05,295.40" fill="#F25A5A"/>
<polygon points="361.30,345.65 365.65,350.00 361.30,354.35 356.95,350.00" fill="#F25A5A"/>
<polygon points="383.40,363.65 387.75,368.00 383.40,372.35 379.05,368.00" fill="#F25A5A"/>
<polygon points="196.81,148.30 203.70,144.32 203.70,152.28" fill="#1F63D6"/>
<polygon points="243.11,192.10 250.00,188.12 250.00,196.08" fill="#1F63D6"/>
<polygon points="266.31,214.90 273.20,210.92 273.20,218.88" fill="#1F63D6"/>
<polygon points="288.41,240.00 295.30,236.02 295.30,243.98" fill="#1F63D6"/>
<polygon points="311.31,262.90 318.20,258.92 318.20,266.88" fill="#1F63D6"/>
<polygon points="333.71,316.70 340.60,312.72 340.60,320.68" fill="#1F63D6"/>
<polygon points="356.41,355.00 363.30,351.02 363.30,358.98" fill="#1F63D6"/>
<polygon points="378.81,370.00 385.70,366.02 385.70,373.98" fill="#1F63D6"/>
<polygon points="156.80,100.83 158.00,104.25 161.64,104.34 158.75,106.54 159.79,110.02 156.80,107.96 153.81,110.02 154.85,106.54 151.96,104.34 155.60,104.25" fill="#2F6CA6"/>
<polygon points="226.00,187.33 227.20,190.75 230.84,190.84 227.95,193.04 228.99,196.52 226.00,194.46 223.01,196.52 224.05,193.04 221.16,190.84 224.80,190.75" fill="#2F6CA6"/>
<polygon points="293.70,237.83 294.90,241.25 298.54,241.34 295.65,243.54 296.69,247.02 293.70,244.96 290.71,247.02 291.75,243.54 288.86,241.34 292.50,241.25" fill="#2F6CA6"/>
<polygon points="316.60,179.13 317.80,182.55 321.44,182.64 318.55,184.84 319.59,188.32 316.60,186.26 313.61,188.32 314.65,184.84 311.76,182.64 315.40,182.55" fill="#2F6CA6"/>
<polygon points="352.80,225.53 354.00,228.95 357.64,229.04 354.75,231.24 355.79,234.72 352.80,232.66 349.81,234.72 350.85,231.24 347.96,229.04 351.60,228.95" fill="#2F6CA6"/>
<polygon points="383.30,263.23 384.50,266.65 388.14,266.74 385.25,268.94 386.29,272.42 383.30,270.36 380.31,272.42 381.35,268.94 378.46,266.74 382.10,266.65" fill="#2F6CA6"/>
<polygon points="418.20,316.83 419.40,320.25 423.04,320.34 420.15,322.54 421.19,326.02 418.20,323.96 415.21,326.02 416.25,322.54 413.36,320.34 417.00,320.25" fill="#2F6CA6"/>
<polygon points="451.30,349.83 452.50,353.25 456.14,353.34 453.25,355.54 454.29,359.02 451.30,356.96 448.31,359.02 449.35,355.54 446.46,353.34 450.10,353.25" fill="#2F6CA6"/>
<polygon points="484.00,365.33 485.20,368.75 488.84,368.84 485.95,371.04 486.99,374.52 484.00,372.46 481.01,374.52 482.05,371.04 479.16,368.84 482.80,368.75" fill="#2F6CA6"/>
<polygon points="161.39,104.90 154.50,108.88 154.50,100.92" fill="#22B83A"/>
<polygon points="205.29,175.00 198.40,178.98 198.40,171.02" fill="#22B83A"/>
<polygon points="230.59,191.60 223.70,195.58 223.70,187.62" fill="#22B83A"/>
<polygon points="253.39,223.70 246.50,227.68 246.50,219.72" fill="#22B83A"/>
<polygon points="276.19,235.30 269.30,239.28 269.30,231.32" fill="#22B83A"/>
<polygon points="298.29,244.00 291.40,247.98 291.40,240.02" fill="#22B83A"/>
<polygon points="321.89,291.70 315.00,295.68 315.00,287.72" fill="#22B83A"/>
<polygon points="343.49,333.30 336.60,337.28 336.60,329.32" fill="#22B83A"/>
<polygon points="366.39,356.90 359.50,360.88 359.50,352.92" fill="#22B83A"/>
<polygon points="387.99,365.00 381.10,368.98 381.10,361.02" fill="#22B83A"/>
<polygon points="102.05,126.65 98.50,128.70 94.95,126.65 94.95,122.55 98.50,120.50 102.05,122.55" fill="#F2B318"/>
<polygon points="159.65,126.65 156.10,128.70 152.55,126.65 152.55,122.55 156.10,120.50 159.65,122.55" fill="#F2B318"/>
<polygon points="191.25,133.45 187.70,135.50 184.15,133.45 184.15,129.35 187.70,127.30 191.25,129.35" fill="#F2B318"/>
<polygon points="204.25,181.05 200.70,183.10 197.15,181.05 197.15,176.95 200.70,174.90 204.25,176.95" fill="#F2B318"/>
<polygon points="221.35,256.85 217.80,258.90 214.25,256.85 214.25,252.75 217.80,250.70 221.35,252.75" fill="#F2B318"/>
<polygon points="296.95,333.05 293.40,335.10 289.85,333.05 289.85,328.95 293.40,326.90 296.95,328.95" fill="#F2B318"/>
<polygon points="409.95,360.55 406.40,362.60 402.85,360.55 402.85,356.45 406.40,354.40 409.95,356.45" fill="#F2B318"/>
<polygon points="477.15,376.55 473.60,378.60 470.05,376.55 470.05,372.45 473.60,370.40 477.15,372.45" fill="#F2B318"/>
<polygon points="248.00,96.88 252.29,100.00 250.65,105.04 245.35,105.04 243.71,100.00" fill="#12A622"/>
<polygon points="293.90,98.18 298.19,101.30 296.55,106.34 291.25,106.34 289.61,101.30" fill="#12A622"/>
<polygon points="316.10,116.58 320.39,119.70 318.75,124.74 313.45,124.74 311.81,119.70" fill="#12A622"/>
<polygon points="352.40,181.08 356.69,184.20 355.05,189.24 349.75,189.24 348.11,184.20" fill="#12A622"/>
<polygon points="383.70,139.28 387.99,142.40 386.35,147.44 381.05,147.44 379.41,142.40" fill="#12A622"/>
<polygon points="418.50,206.68 422.79,209.80 421.15,214.84 415.85,214.84 414.21,209.80" fill="#12A622"/>
<polygon points="451.80,297.48 456.09,300.60 454.45,305.64 449.15,305.64 447.51,300.60" fill="#12A622"/>
<polygon points="484.00,342.38 488.29,345.50 486.65,350.54 481.35,350.54 479.71,345.50" fill="#12A622"/>
<polygon points="512.70,365.48 516.99,368.60 515.35,373.64 510.05,373.64 508.41,368.60" fill="#12A622"/>
<circle cx="225.70" cy="107.00" r="3.77" fill="#0B4D3E"/>
<circle cx="271.10" cy="103.70" r="3.77" fill="#0B4D3E"/>
<circle cx="294.20" cy="150.00" r="3.77" fill="#0B4D3E"/>
<circle cx="316.00" cy="231.00" r="3.77" fill="#0B4D3E"/>
<circle cx="338.30" cy="304.00" r="3.77" fill="#0B4D3E"/>
<circle cx="383.40" cy="372.00" r="3.77" fill="#0B4D3E"/>
<circle cx="406.40" cy="374.50" r="3.77" fill="#0B4D3E"/>
<circle cx="429.50" cy="374.50" r="3.77" fill="#0B4D3E"/>
</g>
<rect x="455.28" y="79.68" width="6.23" height="6.23" fill="#D0B000"/>
<text transform="translate(475.6,86.80) scale(1,1.05)" font-size="12.5">MEL</text>
<circle cx="458.40" cy="98.25" r="3.58" fill="#1A2EE8"/>
<text transform="translate(475.6,102.25) scale(1,1.05)" font-size="12.5">M-N-1</text>
<polygon points="458.40,109.34 462.18,115.88 454.62,115.88" fill="#1FA3A3"/>
<text transform="translate(475.6,117.70) scale(1,1.05)" font-size="12.5">M-N-2</text>
<polygon points="458.40,133.51 454.62,126.97 462.18,126.97" fill="#E8661A"/>
<text transform="translate(475.6,133.15) scale(1,1.05)" font-size="12.5">M-N-3</text>
<polygon points="458.40,140.47 462.53,144.60 458.40,148.73 454.27,144.60" fill="#F25A5A"/>
<text transform="translate(475.6,148.60) scale(1,1.05)" font-size="12.5">M-N-4</text>
<polygon points="454.04,160.05 460.58,156.27 460.58,163.83" fill="#1F63D6"/>
<text transform="translate(475.6,164.05) scale(1,1.05)" font-size="12.5">M-N-5</text>
<polygon points="462.76,175.50 456.22,179.28 456.22,171.72" fill="#22B83A"/>
<text transform="translate(475.6,179.50) scale(1,1.05)" font-size="12.5">M-N-6</text>
<polygon points="461.77,192.90 458.40,194.84 455.03,192.90 455.03,189.00 458.40,187.05 461.77,189.00" fill="#F2B318"/>
<text transform="translate(475.6,194.95) scale(1,1.05)" font-size="12.5">M-N-7</text>
<polygon points="458.40,201.96 459.54,205.21 462.99,205.30 460.25,207.39 461.24,210.70 458.40,208.74 455.56,210.70 456.55,207.39 453.81,205.30 457.26,205.21" fill="#2F6CA6"/>
<text transform="translate(475.6,210.40) scale(1,1.05)" font-size="12.5">M-N-8</text>
<polygon points="458.40,218.03 462.47,220.99 460.92,225.78 455.88,225.78 454.33,220.99" fill="#12A622"/>
<text transform="translate(475.6,225.85) scale(1,1.05)" font-size="12.5">M-N-9</text>
<circle cx="458.40" cy="237.30" r="3.58" fill="#0B4D3E"/>
<text transform="translate(475.6,241.30) scale(1,1.05)" font-size="12.5">Analog</text>
<rect x="91" y="68.2" width="429.00" height="316.80" fill="none" stroke="#2a2a2a" stroke-width="1.5"/>
<path d="M85.50,377.00H91.00 M85.50,343.60H91.00 M85.50,310.20H91.00 M85.50,276.80H91.00 M85.50,243.40H91.00 M85.50,210.00H91.00 M85.50,176.60H91.00 M85.50,143.20H91.00 M85.50,109.80H91.00 M85.50,76.40H91.00 M88.00,360.30H91.00 M88.00,326.90H91.00 M88.00,293.50H91.00 M88.00,260.10H91.00 M88.00,226.70H91.00 M88.00,193.30H91.00 M88.00,159.90H91.00 M88.00,126.50H91.00 M88.00,93.10H91.00 M98.50,385.00V390.50 M145.70,385.00V390.50 M192.90,385.00V390.50 M240.10,385.00V390.50 M287.30,385.00V390.50 M334.50,385.00V390.50 M381.70,385.00V390.50 M428.90,385.00V390.50 M476.10,385.00V390.50 M93.93,385.00V388.00 M96.34,385.00V388.00 M112.71,385.00V388.00 M121.02,385.00V388.00 M126.92,385.00V388.00 M131.49,385.00V388.00 M135.23,385.00V388.00 M138.39,385.00V388.00 M141.13,385.00V388.00 M143.54,385.00V388.00 M159.91,385.00V388.00 M168.22,385.00V388.00 M174.12,385.00V388.00 M178.69,385.00V388.00 M182.43,385.00V388.00 M185.59,385.00V388.00 M188.33,385.00V388.00 M190.74,385.00V388.00 M207.11,385.00V388.00 M215.42,385.00V388.00 M221.32,385.00V388.00 M225.89,385.00V388.00 M229.63,385.00V388.00 M232.79,385.00V388.00 M235.53,385.00V388.00 M237.94,385.00V388.00 M254.31,385.00V388.00 M262.62,385.00V388.00 M268.52,385.00V388.00 M273.09,385.00V388.00 M276.83,385.00V388.00 M279.99,385.00V388.00 M282.73,385.00V388.00 M285.14,385.00V388.00 M301.51,385.00V388.00 M309.82,385.00V388.00 M315.72,385.00V388.00 M320.29,385.00V388.00 M324.03,385.00V388.00 M327.19,385.00V388.00 M329.93,385.00V388.00 M332.34,385.00V388.00 M348.71,385.00V388.00 M357.02,385.00V388.00 M362.92,385.00V388.00 M367.49,385.00V388.00 M371.23,385.00V388.00 M374.39,385.00V388.00 M377.13,385.00V388.00 M379.54,385.00V388.00 M395.91,385.00V388.00 M404.22,385.00V388.00 M410.12,385.00V388.00 M414.69,385.00V388.00 M418.43,385.00V388.00 M421.59,385.00V388.00 M424.33,385.00V388.00 M426.74,385.00V388.00 M443.11,385.00V388.00 M451.42,385.00V388.00 M457.32,385.00V388.00 M461.89,385.00V388.00 M465.63,385.00V388.00 M468.79,385.00V388.00 M471.53,385.00V388.00 M473.94,385.00V388.00 M490.31,385.00V388.00 M498.62,385.00V388.00 M504.52,385.00V388.00 M509.09,385.00V388.00 M512.83,385.00V388.00 M515.99,385.00V388.00 M518.73,385.00V388.00" stroke="#2a2a2a" stroke-width="1.2" fill="none"/>
<text transform="translate(80.70,381.50) scale(1,1.05)" font-size="16.3" text-anchor="end">0.0</text>
<text transform="translate(80.70,348.10) scale(1,1.05)" font-size="16.3" text-anchor="end">0.2</text>
<text transform="translate(80.70,314.70) scale(1,1.05)" font-size="16.3" text-anchor="end">0.4</text>
<text transform="translate(80.70,281.30) scale(1,1.05)" font-size="16.3" text-anchor="end">0.6</text>
<text transform="translate(80.70,247.90) scale(1,1.05)" font-size="16.3" text-anchor="end">0.8</text>
<text transform="translate(80.70,214.50) scale(1,1.05)" font-size="16.3" text-anchor="end">1.0</text>
<text transform="translate(80.70,181.10) scale(1,1.05)" font-size="16.3" text-anchor="end">1.2</text>
<text transform="translate(80.70,147.70) scale(1,1.05)" font-size="16.3" text-anchor="end">1.4</text>
<text transform="translate(80.70,114.30) scale(1,1.05)" font-size="16.3" text-anchor="end">1.6</text>
<text transform="translate(80.70,80.90) scale(1,1.05)" font-size="16.3" text-anchor="end">1.8</text>
<text transform="translate(84.98,408.60) scale(1,1.08)" font-size="16.0">10<tspan font-size="10.4" dy="-7.70">-4</tspan></text>
<text transform="translate(132.18,408.60) scale(1,1.08)" font-size="16.0">10<tspan font-size="10.4" dy="-7.70">-3</tspan></text>
<text transform="translate(179.38,408.60) scale(1,1.08)" font-size="16.0">10<tspan font-size="10.4" dy="-7.70">-2</tspan></text>
<text transform="translate(226.58,408.60) scale(1,1.08)" font-size="16.0">10<tspan font-size="10.4" dy="-7.70">-1</tspan></text>
<text transform="translate(275.51,408.60) scale(1,1.08)" font-size="16.0">10<tspan font-size="10.4" dy="-7.70">0</tspan></text>
<text transform="translate(322.71,408.60) scale(1,1.08)" font-size="16.0">10<tspan font-size="10.4" dy="-7.70">1</tspan></text>
<text transform="translate(369.91,408.60) scale(1,1.08)" font-size="16.0">10<tspan font-size="10.4" dy="-7.70">2</tspan></text>
<text transform="translate(417.11,408.60) scale(1,1.08)" font-size="16.0">10<tspan font-size="10.4" dy="-7.70">3</tspan></text>
<text transform="translate(464.31,408.60) scale(1,1.08)" font-size="16.0">10<tspan font-size="10.4" dy="-7.70">4</tspan></text>
<text transform="translate(60.6,41.2) scale(1,1.03)" font-size="31" text-anchor="middle">(a)</text>
<text transform="translate(291.2,436.75) scale(1,1.07)" font-size="30.8" text-anchor="middle">Concentration of analyte (nM)</text>
<text transform="translate(48.9,234.1) rotate(-90) scale(1,1.07)" font-size="30.8" text-anchor="middle">OD Values</text>
<clipPath id="cb"><rect x="610.9" y="68.4" width="426.6" height="315.9"/></clipPath>
<g clip-path="url(#cb)">
<path d="M621.00,99.41 L622.50,99.54 L624.00,99.67 L625.50,99.81 L627.00,99.95 L628.50,100.10 L630.00,100.25 L631.50,100.41 L633.00,100.58 L634.50,100.76 L636.00,100.95 L637.50,101.14 L639.00,101.34 L640.50,101.56 L642.00,101.78 L643.50,102.01 L645.00,102.25 L646.50,102.50 L648.00,102.76 L649.50,103.04 L651.00,103.33 L652.50,103.63 L654.00,103.94 L655.50,104.27 L657.00,104.61 L658.50,104.97 L660.00,105.34 L661.50,105.73 L663.00,106.13 L664.50,106.56 L666.00,107.00 L667.50,107.46 L669.00,107.94 L670.50,108.44 L672.00,108.96 L673.50,109.50 L675.00,110.07 L676.50,110.66 L678.00,111.28 L679.50,111.92 L681.00,112.58 L682.50,113.28 L684.00,114.00 L685.50,114.76 L687.00,115.54 L688.50,116.35 L690.00,117.20 L691.50,118.08 L693.00,119.00 L694.50,119.95 L696.00,120.94 L697.50,121.97 L699.00,123.03 L700.50,124.14 L702.00,125.29 L703.50,126.48 L705.00,127.71 L706.50,128.99 L708.00,130.31 L709.50,131.68 L711.00,133.10 L712.50,134.57 L714.00,136.09 L715.50,137.66 L717.00,139.27 L718.50,140.95 L720.00,142.67 L721.50,144.45 L723.00,146.29 L724.50,148.18 L726.00,150.12 L727.50,152.12 L729.00,154.18 L730.50,156.30 L732.00,158.47 L733.50,160.70 L735.00,162.98 L736.50,165.32 L738.00,167.72 L739.50,170.17 L741.00,172.68 L742.50,175.24 L744.00,177.85 L745.50,180.52 L747.00,183.24 L748.50,186.00 L750.00,188.81 L751.50,191.67 L753.00,194.58 L754.50,197.52 L756.00,200.51 L757.50,203.53 L759.00,206.58 L760.50,209.67 L762.00,212.79 L763.50,215.94 L765.00,219.11 L766.50,222.30 L768.00,225.50 L769.50,228.73 L771.00,231.96 L772.50,235.20 L774.00,238.45 L775.50,241.69 L777.00,244.94 L778.50,248.18 L780.00,251.41 L781.50,254.63 L783.00,257.83 L784.50,261.01 L786.00,264.18 L787.50,267.32 L789.00,270.43 L790.50,273.51 L792.00,276.56 L793.50,279.57 L795.00,282.54 L796.50,285.48 L798.00,288.37 L799.50,291.22 L801.00,294.02 L802.50,296.77 L804.00,299.47 L805.50,302.13 L807.00,304.73 L808.50,307.27 L810.00,309.77 L811.50,312.20 L813.00,314.59 L814.50,316.91 L816.00,319.18 L817.50,321.40 L819.00,323.55 L820.50,325.65 L822.00,327.70 L823.50,329.68 L825.00,331.61 L826.50,333.49 L828.00,335.31 L829.50,337.07 L831.00,338.78 L832.50,340.44 L834.00,342.05 L835.50,343.60 L837.00,345.11 L838.50,346.56 L840.00,347.97 L841.50,349.33 L843.00,350.64 L844.50,351.91 L846.00,353.13 L847.50,354.31 L849.00,355.44 L850.50,356.54 L852.00,357.59 L853.50,358.61 L855.00,359.59 L856.50,360.53 L858.00,361.44 L859.50,362.31 L861.00,363.15 L862.50,363.96 L864.00,364.73 L865.50,365.48 L867.00,366.19 L868.50,366.88 L870.00,367.54 L871.50,368.18 L873.00,368.79 L874.50,369.37 L876.00,369.93 L877.50,370.47 L879.00,370.98 L880.50,371.48 L882.00,371.95 L883.50,372.41 L885.00,372.85 L886.50,373.26 L888.00,373.66 L889.50,374.05 L891.00,374.42 L892.00,374.65" fill="none" stroke="#F25A6E" stroke-width="1.25"/>
<path d="M621.00,134.72 L622.50,134.78 L624.00,134.84 L625.50,134.91 L627.00,134.98 L628.50,135.05 L630.00,135.13 L631.50,135.21 L633.00,135.30 L634.50,135.39 L636.00,135.49 L637.50,135.59 L639.00,135.69 L640.50,135.81 L642.00,135.92 L643.50,136.05 L645.00,136.18 L646.50,136.32 L648.00,136.46 L649.50,136.61 L651.00,136.77 L652.50,136.94 L654.00,137.11 L655.50,137.30 L657.00,137.50 L658.50,137.70 L660.00,137.92 L661.50,138.14 L663.00,138.38 L664.50,138.63 L666.00,138.90 L667.50,139.17 L669.00,139.46 L670.50,139.77 L672.00,140.09 L673.50,140.43 L675.00,140.78 L676.50,141.15 L678.00,141.54 L679.50,141.95 L681.00,142.38 L682.50,142.83 L684.00,143.31 L685.50,143.80 L687.00,144.32 L688.50,144.87 L690.00,145.44 L691.50,146.04 L693.00,146.67 L694.50,147.32 L696.00,148.01 L697.50,148.73 L699.00,149.49 L700.50,150.28 L702.00,151.10 L703.50,151.97 L705.00,152.87 L706.50,153.81 L708.00,154.80 L709.50,155.82 L711.00,156.89 L712.50,158.01 L714.00,159.18 L715.50,160.39 L717.00,161.66 L718.50,162.97 L720.00,164.34 L721.50,165.76 L723.00,167.24 L724.50,168.78 L726.00,170.37 L727.50,172.03 L729.00,173.74 L730.50,175.51 L732.00,177.35 L733.50,179.25 L735.00,181.21 L736.50,183.23 L738.00,185.32 L739.50,187.47 L741.00,189.69 L742.50,191.97 L744.00,194.31 L745.50,196.72 L747.00,199.18 L748.50,201.71 L750.00,204.30 L751.50,206.94 L753.00,209.64 L754.50,212.40 L756.00,215.21 L757.50,218.06 L759.00,220.97 L760.50,223.92 L762.00,226.91 L763.50,229.93 L765.00,233.00 L766.50,236.09 L768.00,239.21 L769.50,242.36 L771.00,245.52 L772.50,248.70 L774.00,251.89 L775.50,255.09 L777.00,258.29 L778.50,261.49 L780.00,264.68 L781.50,267.87 L783.00,271.04 L784.50,274.19 L786.00,277.31 L787.50,280.41 L789.00,283.49 L790.50,286.52 L792.00,289.52 L793.50,292.48 L795.00,295.40 L796.50,298.27 L798.00,301.09 L799.50,303.86 L801.00,306.57 L802.50,309.23 L804.00,311.83 L805.50,314.37 L807.00,316.86 L808.50,319.28 L810.00,321.63 L811.50,323.93 L813.00,326.16 L814.50,328.33 L816.00,330.43 L817.50,332.47 L819.00,334.45 L820.50,336.37 L822.00,338.22 L823.50,340.01 L825.00,341.73 L826.50,343.40 L828.00,345.01 L829.50,346.56 L831.00,348.05 L832.50,349.49 L834.00,350.87 L835.50,352.20 L837.00,353.48 L838.50,354.71 L840.00,355.88 L841.50,357.01 L843.00,358.10 L844.50,359.14 L846.00,360.13 L847.50,361.08 L849.00,362.00 L850.50,362.87 L852.00,363.70 L853.50,364.50 L855.00,365.26 L856.50,365.99 L858.00,366.69 L859.50,367.36 L861.00,367.99 L862.50,368.60 L864.00,369.18 L865.50,369.73 L867.00,370.25 L868.50,370.76 L870.00,371.24 L871.50,371.69 L873.00,372.13 L874.50,372.54 L876.00,372.94 L877.50,373.31 L879.00,373.67 L880.50,374.01 L882.00,374.34 L883.50,374.65 L885.00,374.94 L886.50,375.22 L888.00,375.49 L889.50,375.74 L891.00,375.98 L892.00,376.14" fill="none" stroke="#1F6FE0" stroke-width="1.25"/>
<path d="M696.00,124.87 L697.50,124.99 L699.00,125.12 L700.50,125.26 L702.00,125.40 L703.50,125.54 L705.00,125.69 L706.50,125.85 L708.00,126.02 L709.50,126.19 L711.00,126.37 L712.50,126.56 L714.00,126.76 L715.50,126.96 L717.00,127.17 L718.50,127.39 L720.00,127.62 L721.50,127.86 L723.00,128.12 L724.50,128.38 L726.00,128.65 L727.50,128.93 L729.00,129.23 L730.50,129.53 L732.00,129.85 L733.50,130.19 L735.00,130.53 L736.50,130.89 L738.00,131.27 L739.50,131.66 L741.00,132.07 L742.50,132.49 L744.00,132.93 L745.50,133.39 L747.00,133.86 L748.50,134.36 L750.00,134.87 L751.50,135.41 L753.00,135.96 L754.50,136.54 L756.00,137.14 L757.50,137.76 L759.00,138.41 L760.50,139.08 L762.00,139.78 L763.50,140.50 L765.00,141.25 L766.50,142.03 L768.00,142.84 L769.50,143.68 L771.00,144.54 L772.50,145.44 L774.00,146.37 L775.50,147.34 L777.00,148.34 L778.50,149.37 L780.00,150.44 L781.50,151.55 L783.00,152.69 L784.50,153.87 L786.00,155.09 L787.50,156.35 L789.00,157.65 L790.50,159.00 L792.00,160.38 L793.50,161.81 L795.00,163.28 L796.50,164.79 L798.00,166.35 L799.50,167.96 L801.00,169.61 L802.50,171.30 L804.00,173.04 L805.50,174.83 L807.00,176.67 L808.50,178.55 L810.00,180.48 L811.50,182.45 L813.00,184.48 L814.50,186.54 L816.00,188.66 L817.50,190.82 L819.00,193.02 L820.50,195.27 L822.00,197.56 L823.50,199.90 L825.00,202.27 L826.50,204.69 L828.00,207.14 L829.50,209.64 L831.00,212.16 L832.50,214.73 L834.00,217.33 L835.50,219.95 L837.00,222.61 L838.50,225.30 L840.00,228.01 L841.50,230.74 L843.00,233.50 L844.50,236.27 L846.00,239.06 L847.50,241.86 L849.00,244.68 L850.50,247.50 L852.00,250.33 L853.50,253.16 L855.00,256.00 L856.50,258.83 L858.00,261.66 L859.50,264.48 L861.00,267.29 L862.50,270.10 L864.00,272.88 L865.50,275.65 L867.00,278.40 L868.50,281.13 L870.00,283.84 L871.50,286.52 L873.00,289.17 L874.50,291.79 L876.00,294.38 L877.50,296.94 L879.00,299.46 L880.50,301.95 L882.00,304.39 L883.50,306.80 L885.00,309.17 L886.50,311.50 L888.00,313.78 L889.50,316.02 L891.00,318.21 L892.50,320.36 L894.00,322.47 L895.50,324.53 L897.00,326.54 L898.50,328.51 L900.00,330.42 L901.50,332.30 L903.00,334.12 L904.50,335.90 L906.00,337.63 L907.50,339.32 L909.00,340.96 L910.50,342.56 L912.00,344.11 L913.50,345.61 L915.00,347.07 L916.50,348.49 L918.00,349.87 L919.50,351.20 L921.00,352.50 L922.50,353.75 L924.00,354.96 L925.50,356.14 L927.00,357.27 L928.50,358.37 L930.00,359.43 L931.50,360.46 L933.00,361.45 L934.50,362.41 L936.00,363.33 L937.50,364.23 L939.00,365.09 L940.50,365.92 L942.00,366.72 L943.50,367.49 L945.00,368.24 L946.50,368.96 L948.00,369.65 L949.50,370.32 L951.00,370.96 L952.50,371.58 L954.00,372.17 L955.50,372.74 L957.00,373.30 L958.50,373.83 L960.00,374.34 L961.50,374.83 L963.00,375.30 L964.00,375.60" fill="none" stroke="#2B2BE0" stroke-width="1.25"/>
<path d="M696.00,127.68 L697.50,127.90 L699.00,128.12 L700.50,128.36 L702.00,128.60 L703.50,128.85 L705.00,129.11 L706.50,129.38 L708.00,129.66 L709.50,129.95 L711.00,130.25 L712.50,130.56 L714.00,130.88 L715.50,131.21 L717.00,131.56 L718.50,131.92 L720.00,132.29 L721.50,132.68 L723.00,133.08 L724.50,133.49 L726.00,133.92 L727.50,134.36 L729.00,134.82 L730.50,135.30 L732.00,135.79 L733.50,136.30 L735.00,136.82 L736.50,137.37 L738.00,137.93 L739.50,138.51 L741.00,139.12 L742.50,139.74 L744.00,140.39 L745.50,141.05 L747.00,141.74 L748.50,142.45 L750.00,143.19 L751.50,143.94 L753.00,144.73 L754.50,145.54 L756.00,146.37 L757.50,147.23 L759.00,148.12 L760.50,149.04 L762.00,149.98 L763.50,150.96 L765.00,151.96 L766.50,152.99 L768.00,154.06 L769.50,155.15 L771.00,156.28 L772.50,157.44 L774.00,158.63 L775.50,159.86 L777.00,161.12 L778.50,162.42 L780.00,163.75 L781.50,165.11 L783.00,166.52 L784.50,167.95 L786.00,169.43 L787.50,170.94 L789.00,172.49 L790.50,174.07 L792.00,175.70 L793.50,177.36 L795.00,179.06 L796.50,180.79 L798.00,182.56 L799.50,184.37 L801.00,186.22 L802.50,188.11 L804.00,190.03 L805.50,191.99 L807.00,193.98 L808.50,196.01 L810.00,198.07 L811.50,200.17 L813.00,202.30 L814.50,204.46 L816.00,206.66 L817.50,208.88 L819.00,211.14 L820.50,213.42 L822.00,215.73 L823.50,218.07 L825.00,220.43 L826.50,222.82 L828.00,225.23 L829.50,227.66 L831.00,230.11 L832.50,232.57 L834.00,235.05 L835.50,237.55 L837.00,240.06 L838.50,242.58 L840.00,245.10 L841.50,247.64 L843.00,250.18 L844.50,252.72 L846.00,255.27 L847.50,257.81 L849.00,260.36 L850.50,262.89 L852.00,265.43 L853.50,267.95 L855.00,270.47 L856.50,272.97 L858.00,275.46 L859.50,277.94 L861.00,280.40 L862.50,282.84 L864.00,285.26 L865.50,287.66 L867.00,290.04 L868.50,292.39 L870.00,294.72 L871.50,297.03 L873.00,299.30 L874.50,301.54 L876.00,303.76 L877.50,305.94 L879.00,308.10 L880.50,310.21 L882.00,312.30 L883.50,314.35 L885.00,316.37 L886.50,318.35 L888.00,320.29 L889.50,322.20 L891.00,324.07 L892.50,325.91 L894.00,327.70 L895.50,329.46 L897.00,331.19 L898.50,332.87 L900.00,334.52 L901.50,336.13 L903.00,337.70 L904.50,339.24 L906.00,340.73 L907.50,342.20 L909.00,343.62 L910.50,345.01 L912.00,346.36 L913.50,347.68 L915.00,348.97 L916.50,350.21 L918.00,351.43 L919.50,352.61 L921.00,353.76 L922.50,354.88 L924.00,355.96 L925.50,357.01 L927.00,358.04 L928.50,359.03 L930.00,359.99 L931.50,360.93 L933.00,361.83 L934.50,362.71 L936.00,363.56 L937.50,364.39 L939.00,365.19 L940.50,365.96 L942.00,366.71 L943.50,367.44 L945.00,368.14 L946.50,368.82 L948.00,369.48 L949.50,370.12 L951.00,370.74 L952.50,371.33 L954.00,371.91 L955.50,372.46 L957.00,373.00 L958.50,373.52 L960.00,374.03 L961.50,374.51 L963.00,374.98 L964.00,375.29" fill="none" stroke="#1FA3A3" stroke-width="1.25"/>
<path d="M672.00,87.40 L673.50,87.45 L675.00,87.50 L676.50,87.55 L678.00,87.60 L679.50,87.66 L681.00,87.72 L682.50,87.78 L684.00,87.85 L685.50,87.92 L687.00,88.00 L688.50,88.07 L690.00,88.15 L691.50,88.24 L693.00,88.33 L694.50,88.43 L696.00,88.53 L697.50,88.63 L699.00,88.74 L700.50,88.86 L702.00,88.98 L703.50,89.11 L705.00,89.24 L706.50,89.38 L708.00,89.53 L709.50,89.69 L711.00,89.85 L712.50,90.02 L714.00,90.20 L715.50,90.39 L717.00,90.59 L718.50,90.80 L720.00,91.02 L721.50,91.25 L723.00,91.50 L724.50,91.75 L726.00,92.02 L727.50,92.30 L729.00,92.59 L730.50,92.90 L732.00,93.23 L733.50,93.57 L735.00,93.92 L736.50,94.30 L738.00,94.69 L739.50,95.10 L741.00,95.54 L742.50,95.99 L744.00,96.46 L745.50,96.96 L747.00,97.48 L748.50,98.03 L750.00,98.60 L751.50,99.20 L753.00,99.83 L754.50,100.49 L756.00,101.18 L757.50,101.90 L759.00,102.65 L760.50,103.44 L762.00,104.26 L763.50,105.12 L765.00,106.02 L766.50,106.96 L768.00,107.94 L769.50,108.97 L771.00,110.04 L772.50,111.15 L774.00,112.32 L775.50,113.53 L777.00,114.79 L778.50,116.11 L780.00,117.48 L781.50,118.91 L783.00,120.39 L784.50,121.93 L786.00,123.54 L787.50,125.20 L789.00,126.93 L790.50,128.72 L792.00,130.57 L793.50,132.50 L795.00,134.49 L796.50,136.55 L798.00,138.68 L799.50,140.87 L801.00,143.14 L802.50,145.49 L804.00,147.90 L805.50,150.38 L807.00,152.94 L808.50,155.57 L810.00,158.27 L811.50,161.04 L813.00,163.88 L814.50,166.78 L816.00,169.76 L817.50,172.80 L819.00,175.90 L820.50,179.07 L822.00,182.29 L823.50,185.58 L825.00,188.91 L826.50,192.30 L828.00,195.74 L829.50,199.22 L831.00,202.74 L832.50,206.29 L834.00,209.89 L835.50,213.50 L837.00,217.15 L838.50,220.81 L840.00,224.49 L841.50,228.18 L843.00,231.88 L844.50,235.58 L846.00,239.28 L847.50,242.96 L849.00,246.64 L850.50,250.30 L852.00,253.94 L853.50,257.55 L855.00,261.13 L856.50,264.68 L858.00,268.18 L859.50,271.65 L861.00,275.07 L862.50,278.44 L864.00,281.77 L865.50,285.03 L867.00,288.24 L868.50,291.39 L870.00,294.47 L871.50,297.49 L873.00,300.45 L874.50,303.33 L876.00,306.15 L877.50,308.90 L879.00,311.58 L880.50,314.19 L882.00,316.72 L883.50,319.18 L885.00,321.58 L886.50,323.90 L888.00,326.14 L889.50,328.32 L891.00,330.43 L892.50,332.47 L894.00,334.44 L895.50,336.34 L897.00,338.18 L898.50,339.95 L900.00,341.66 L901.50,343.30 L903.00,344.89 L904.50,346.41 L906.00,347.88 L907.50,349.29 L909.00,350.64 L910.50,351.94 L912.00,353.19 L913.50,354.39 L915.00,355.54 L916.50,356.64 L918.00,357.70 L919.50,358.71 L921.00,359.68 L922.50,360.61 L924.00,361.49 L925.50,362.34 L927.00,363.16 L928.50,363.93 L930.00,364.68 L931.50,365.39 L933.00,366.07 L934.50,366.71 L936.00,367.33 L937.50,367.92 L939.00,368.49 L940.50,369.03 L942.00,369.54 L943.50,370.03 L945.00,370.50 L946.50,370.95 L948.00,371.37 L949.50,371.78 L951.00,372.17 L952.50,372.54 L954.00,372.89 L955.50,373.23 L957.00,373.54 L958.50,373.85 L960.00,374.14 L961.50,374.42 L963.00,374.68 L964.00,374.85" fill="none" stroke="#25B5E8" stroke-width="1.25"/>
<path d="M672.00,86.14 L673.50,86.34 L675.00,86.55 L676.50,86.76 L678.00,86.98 L679.50,87.21 L681.00,87.44 L682.50,87.68 L684.00,87.93 L685.50,88.18 L687.00,88.45 L688.50,88.72 L690.00,89.00 L691.50,89.28 L693.00,89.58 L694.50,89.88 L696.00,90.20 L697.50,90.52 L699.00,90.85 L700.50,91.19 L702.00,91.54 L703.50,91.91 L705.00,92.28 L706.50,92.66 L708.00,93.06 L709.50,93.46 L711.00,93.88 L712.50,94.31 L714.00,94.75 L715.50,95.21 L717.00,95.68 L718.50,96.16 L720.00,96.66 L721.50,97.16 L723.00,97.69 L724.50,98.23 L726.00,98.78 L727.50,99.35 L729.00,99.93 L730.50,100.54 L732.00,101.15 L733.50,101.79 L735.00,102.44 L736.50,103.11 L738.00,103.79 L739.50,104.50 L741.00,105.23 L742.50,105.97 L744.00,106.73 L745.50,107.52 L747.00,108.32 L748.50,109.14 L750.00,109.99 L751.50,110.86 L753.00,111.74 L754.50,112.66 L756.00,113.59 L757.50,114.55 L759.00,115.53 L760.50,116.53 L762.00,117.56 L763.50,118.61 L765.00,119.69 L766.50,120.80 L768.00,121.93 L769.50,123.08 L771.00,124.26 L772.50,125.47 L774.00,126.71 L775.50,127.97 L777.00,129.26 L778.50,130.57 L780.00,131.92 L781.50,133.29 L783.00,134.69 L784.50,136.12 L786.00,137.58 L787.50,139.07 L789.00,140.58 L790.50,142.13 L792.00,143.70 L793.50,145.31 L795.00,146.94 L796.50,148.60 L798.00,150.29 L799.50,152.01 L801.00,153.75 L802.50,155.53 L804.00,157.33 L805.50,159.17 L807.00,161.03 L808.50,162.91 L810.00,164.83 L811.50,166.77 L813.00,168.74 L814.50,170.73 L816.00,172.75 L817.50,174.80 L819.00,176.86 L820.50,178.96 L822.00,181.07 L823.50,183.21 L825.00,185.37 L826.50,187.55 L828.00,189.76 L829.50,191.98 L831.00,194.22 L832.50,196.47 L834.00,198.75 L835.50,201.04 L837.00,203.34 L838.50,205.66 L840.00,207.99 L841.50,210.34 L843.00,212.69 L844.50,215.06 L846.00,217.43 L847.50,219.81 L849.00,222.20 L850.50,224.59 L852.00,226.98 L853.50,229.38 L855.00,231.78 L856.50,234.18 L858.00,236.58 L859.50,238.98 L861.00,241.38 L862.50,243.77 L864.00,246.15 L865.50,248.53 L867.00,250.90 L868.50,253.26 L870.00,255.62 L871.50,257.96 L873.00,260.29 L874.50,262.60 L876.00,264.90 L877.50,267.19 L879.00,269.46 L880.50,271.71 L882.00,273.95 L883.50,276.16 L885.00,278.36 L886.50,280.54 L888.00,282.69 L889.50,284.83 L891.00,286.94 L892.50,289.02 L894.00,291.09 L895.50,293.13 L897.00,295.14 L898.50,297.13 L900.00,299.09 L901.50,301.02 L903.00,302.93 L904.50,304.81 L906.00,306.67 L907.50,308.49 L909.00,310.29 L910.50,312.06 L912.00,313.80 L913.50,315.51 L915.00,317.19 L916.50,318.84 L918.00,320.47 L919.50,322.07 L921.00,323.63 L922.50,325.17 L924.00,326.68 L925.50,328.16 L927.00,329.61 L928.50,331.03 L930.00,332.43 L931.50,333.79 L933.00,335.13 L934.50,336.44 L936.00,337.72 L937.50,338.98 L939.00,340.21 L940.50,341.41 L942.00,342.58 L943.50,343.73 L945.00,344.86 L946.50,345.95 L948.00,347.03 L949.50,348.07 L951.00,349.10 L952.50,350.10 L954.00,351.07 L955.50,352.02 L957.00,352.95 L958.50,353.86 L960.00,354.74 L961.50,355.60 L963.00,356.44 L964.50,357.26 L966.00,358.06 L967.50,358.84 L969.00,359.60 L970.50,360.34 L972.00,361.06 L973.50,361.76 L975.00,362.44 L976.50,363.10 L978.00,363.75 L979.50,364.38 L981.00,364.99 L982.50,365.59 L984.00,366.17 L985.50,366.74 L987.00,367.29 L988.50,367.82 L990.00,368.34 L991.50,368.85 L993.00,369.34 L994.50,369.82 L996.00,370.28 L997.50,370.74 L999.00,371.18 L1000.00,371.46" fill="none" stroke="#F0B400" stroke-width="1.25"/>
<path d="M672.00,79.18 L673.50,79.30 L675.00,79.43 L676.50,79.56 L678.00,79.69 L679.50,79.82 L681.00,79.97 L682.50,80.11 L684.00,80.26 L685.50,80.41 L687.00,80.57 L688.50,80.73 L690.00,80.90 L691.50,81.07 L693.00,81.25 L694.50,81.43 L696.00,81.62 L697.50,81.81 L699.00,82.01 L700.50,82.21 L702.00,82.42 L703.50,82.63 L705.00,82.86 L706.50,83.08 L708.00,83.32 L709.50,83.56 L711.00,83.81 L712.50,84.06 L714.00,84.33 L715.50,84.59 L717.00,84.87 L718.50,85.16 L720.00,85.45 L721.50,85.75 L723.00,86.06 L724.50,86.38 L726.00,86.71 L727.50,87.04 L729.00,87.39 L730.50,87.74 L732.00,88.11 L733.50,88.49 L735.00,88.87 L736.50,89.27 L738.00,89.67 L739.50,90.09 L741.00,90.52 L742.50,90.96 L744.00,91.41 L745.50,91.88 L747.00,92.36 L748.50,92.85 L750.00,93.35 L751.50,93.87 L753.00,94.40 L754.50,94.94 L756.00,95.50 L757.50,96.07 L759.00,96.66 L760.50,97.26 L762.00,97.88 L763.50,98.52 L765.00,99.17 L766.50,99.84 L768.00,100.52 L769.50,101.22 L771.00,101.94 L772.50,102.68 L774.00,103.43 L775.50,104.21 L777.00,105.00 L778.50,105.81 L780.00,106.64 L781.50,107.49 L783.00,108.36 L784.50,109.25 L786.00,110.17 L787.50,111.10 L789.00,112.06 L790.50,113.03 L792.00,114.03 L793.50,115.06 L795.00,116.10 L796.50,117.17 L798.00,118.26 L799.50,119.38 L801.00,120.52 L802.50,121.68 L804.00,122.87 L805.50,124.08 L807.00,125.32 L808.50,126.58 L810.00,127.87 L811.50,129.18 L813.00,130.52 L814.50,131.89 L816.00,133.28 L817.50,134.69 L819.00,136.14 L820.50,137.61 L822.00,139.10 L823.50,140.63 L825.00,142.18 L826.50,143.75 L828.00,145.35 L829.50,146.98 L831.00,148.64 L832.50,150.32 L834.00,152.03 L835.50,153.76 L837.00,155.52 L838.50,157.30 L840.00,159.11 L841.50,160.95 L843.00,162.81 L844.50,164.69 L846.00,166.60 L847.50,168.53 L849.00,170.49 L850.50,172.47 L852.00,174.47 L853.50,176.49 L855.00,178.53 L856.50,180.60 L858.00,182.68 L859.50,184.78 L861.00,186.91 L862.50,189.05 L864.00,191.21 L865.50,193.38 L867.00,195.57 L868.50,197.78 L870.00,200.00 L871.50,202.23 L873.00,204.47 L874.50,206.73 L876.00,209.00 L877.50,211.28 L879.00,213.56 L880.50,215.86 L882.00,218.16 L883.50,220.47 L885.00,222.78 L886.50,225.10 L888.00,227.42 L889.50,229.74 L891.00,232.06 L892.50,234.38 L894.00,236.70 L895.50,239.02 L897.00,241.34 L898.50,243.65 L900.00,245.95 L901.50,248.25 L903.00,250.55 L904.50,252.83 L906.00,255.11 L907.50,257.37 L909.00,259.63 L910.50,261.87 L912.00,264.10 L913.50,266.32 L915.00,268.52 L916.50,270.71 L918.00,272.88 L919.50,275.04 L921.00,277.17 L922.50,279.29 L924.00,281.39 L925.50,283.47 L927.00,285.53 L928.50,287.57 L930.00,289.59 L931.50,291.59 L933.00,293.56 L934.50,295.51 L936.00,297.44 L937.50,299.34 L939.00,301.22 L940.50,303.07 L942.00,304.90 L943.50,306.71 L945.00,308.49 L946.50,310.24 L948.00,311.97 L949.50,313.67 L951.00,315.35 L952.50,317.00 L954.00,318.62 L955.50,320.22 L957.00,321.79 L958.50,323.34 L960.00,324.85 L961.50,326.34 L963.00,327.81 L964.50,329.25 L966.00,330.66 L967.50,332.05 L969.00,333.41 L970.50,334.74 L972.00,336.05 L973.50,337.33 L975.00,338.59 L976.50,339.82 L978.00,341.03 L979.50,342.21 L981.00,343.37 L982.50,344.51 L984.00,345.62 L985.50,346.70 L987.00,347.77 L988.50,348.81 L990.00,349.83 L991.50,350.82 L993.00,351.79 L994.50,352.75 L996.00,353.68 L997.50,354.58 L999.00,355.47 L1000.50,356.34 L1002.00,357.19 L1003.50,358.01 L1005.00,358.82 L1006.50,359.61 L1008.00,360.38 L1009.50,361.13 L1011.00,361.86 L1012.50,362.58 L1014.00,363.28 L1015.50,363.96 L1017.00,364.62 L1018.50,365.27 L1020.00,365.90 L1021.50,366.52 L1023.00,367.12 L1024.50,367.70 L1026.00,368.27 L1027.50,368.83 L1029.00,369.37 L1030.00,369.72" fill="none" stroke="#2F6CA6" stroke-width="1.25"/>
<path d="M696.00,88.39 L697.50,88.47 L699.00,88.55 L700.50,88.64 L702.00,88.73 L703.50,88.83 L705.00,88.93 L706.50,89.03 L708.00,89.14 L709.50,89.25 L711.00,89.37 L712.50,89.49 L714.00,89.62 L715.50,89.76 L717.00,89.90 L718.50,90.05 L720.00,90.20 L721.50,90.36 L723.00,90.53 L724.50,90.71 L726.00,90.89 L727.50,91.08 L729.00,91.28 L730.50,91.49 L732.00,91.71 L733.50,91.94 L735.00,92.18 L736.50,92.42 L738.00,92.68 L739.50,92.95 L741.00,93.24 L742.50,93.53 L744.00,93.84 L745.50,94.16 L747.00,94.49 L748.50,94.84 L750.00,95.21 L751.50,95.59 L753.00,95.98 L754.50,96.39 L756.00,96.82 L757.50,97.27 L759.00,97.74 L760.50,98.23 L762.00,98.74 L763.50,99.26 L765.00,99.82 L766.50,100.39 L768.00,100.99 L769.50,101.61 L771.00,102.26 L772.50,102.93 L774.00,103.63 L775.50,104.36 L777.00,105.12 L778.50,105.91 L780.00,106.73 L781.50,107.58 L783.00,108.46 L784.50,109.38 L786.00,110.34 L787.50,111.33 L789.00,112.36 L790.50,113.42 L792.00,114.53 L793.50,115.68 L795.00,116.86 L796.50,118.10 L798.00,119.37 L799.50,120.69 L801.00,122.06 L802.50,123.47 L804.00,124.93 L805.50,126.44 L807.00,128.00 L808.50,129.61 L810.00,131.27 L811.50,132.98 L813.00,134.75 L814.50,136.56 L816.00,138.44 L817.50,140.37 L819.00,142.35 L820.50,144.39 L822.00,146.48 L823.50,148.63 L825.00,150.83 L826.50,153.09 L828.00,155.41 L829.50,157.78 L831.00,160.20 L832.50,162.68 L834.00,165.21 L835.50,167.80 L837.00,170.43 L838.50,173.11 L840.00,175.85 L841.50,178.63 L843.00,181.45 L844.50,184.33 L846.00,187.24 L847.50,190.19 L849.00,193.18 L850.50,196.20 L852.00,199.26 L853.50,202.35 L855.00,205.47 L856.50,208.61 L858.00,211.77 L859.50,214.95 L861.00,218.15 L862.50,221.37 L864.00,224.59 L865.50,227.82 L867.00,231.05 L868.50,234.28 L870.00,237.51 L871.50,240.73 L873.00,243.95 L874.50,247.15 L876.00,250.33 L877.50,253.50 L879.00,256.64 L880.50,259.77 L882.00,262.86 L883.50,265.92 L885.00,268.95 L886.50,271.95 L888.00,274.91 L889.50,277.83 L891.00,280.71 L892.50,283.54 L894.00,286.33 L895.50,289.07 L897.00,291.76 L898.50,294.41 L900.00,297.00 L901.50,299.54 L903.00,302.03 L904.50,304.46 L906.00,306.84 L907.50,309.17 L909.00,311.44 L910.50,313.65 L912.00,315.81 L913.50,317.91 L915.00,319.96 L916.50,321.95 L918.00,323.89 L919.50,325.77 L921.00,327.60 L922.50,329.38 L924.00,331.10 L925.50,332.77 L927.00,334.39 L928.50,335.95 L930.00,337.47 L931.50,338.94 L933.00,340.36 L934.50,341.74 L936.00,343.06 L937.50,344.35 L939.00,345.59 L940.50,346.78 L942.00,347.94 L943.50,349.05 L945.00,350.12 L946.50,351.16 L948.00,352.15 L949.50,353.12 L951.00,354.04 L952.50,354.93 L954.00,355.79 L955.50,356.61 L957.00,357.41 L958.50,358.17 L960.00,358.91 L961.50,359.61 L963.00,360.29 L964.50,360.94 L966.00,361.57 L967.50,362.17 L969.00,362.75 L970.50,363.30 L972.00,363.84 L973.50,364.35 L975.00,364.84 L976.50,365.31 L978.00,365.76 L979.50,366.19 L981.00,366.61 L982.50,367.01 L984.00,367.39 L985.50,367.76 L987.00,368.11 L988.50,368.45 L990.00,368.77" fill="none" stroke="#E8601A" stroke-width="1.25"/>
<path d="M672.00,85.44 L673.50,85.56 L675.00,85.68 L676.50,85.81 L678.00,85.94 L679.50,86.08 L681.00,86.22 L682.50,86.36 L684.00,86.51 L685.50,86.67 L687.00,86.83 L688.50,86.99 L690.00,87.17 L691.50,87.34 L693.00,87.53 L694.50,87.71 L696.00,87.91 L697.50,88.11 L699.00,88.32 L700.50,88.53 L702.00,88.75 L703.50,88.98 L705.00,89.22 L706.50,89.46 L708.00,89.72 L709.50,89.98 L711.00,90.24 L712.50,90.52 L714.00,90.81 L715.50,91.10 L717.00,91.41 L718.50,91.72 L720.00,92.05 L721.50,92.39 L723.00,92.73 L724.50,93.09 L726.00,93.46 L727.50,93.84 L729.00,94.23 L730.50,94.63 L732.00,95.05 L733.50,95.48 L735.00,95.93 L736.50,96.38 L738.00,96.86 L739.50,97.34 L741.00,97.85 L742.50,98.36 L744.00,98.90 L745.50,99.44 L747.00,100.01 L748.50,100.59 L750.00,101.20 L751.50,101.81 L753.00,102.45 L754.50,103.11 L756.00,103.78 L757.50,104.48 L759.00,105.20 L760.50,105.93 L762.00,106.69 L763.50,107.47 L765.00,108.27 L766.50,109.10 L768.00,109.95 L769.50,110.82 L771.00,111.72 L772.50,112.64 L774.00,113.59 L775.50,114.57 L777.00,115.57 L778.50,116.59 L780.00,117.65 L781.50,118.73 L783.00,119.84 L784.50,120.99 L786.00,122.16 L787.50,123.36 L789.00,124.59 L790.50,125.85 L792.00,127.14 L793.50,128.47 L795.00,129.82 L796.50,131.21 L798.00,132.63 L799.50,134.09 L801.00,135.58 L802.50,137.10 L804.00,138.66 L805.50,140.25 L807.00,141.88 L808.50,143.54 L810.00,145.23 L811.50,146.96 L813.00,148.73 L814.50,150.53 L816.00,152.37 L817.50,154.24 L819.00,156.15 L820.50,158.09 L822.00,160.07 L823.50,162.08 L825.00,164.13 L826.50,166.21 L828.00,168.33 L829.50,170.48 L831.00,172.66 L832.50,174.87 L834.00,177.12 L835.50,179.40 L837.00,181.71 L838.50,184.05 L840.00,186.41 L841.50,188.81 L843.00,191.24 L844.50,193.69 L846.00,196.17 L847.50,198.67 L849.00,201.19 L850.50,203.74 L852.00,206.31 L853.50,208.90 L855.00,211.51 L856.50,214.14 L858.00,216.79 L859.50,219.45 L861.00,222.12 L862.50,224.80 L864.00,227.50 L865.50,230.21 L867.00,232.92 L868.50,235.64 L870.00,238.37 L871.50,241.10 L873.00,243.83 L874.50,246.56 L876.00,249.29 L877.50,252.01 L879.00,254.74 L880.50,257.45 L882.00,260.16 L883.50,262.86 L885.00,265.55 L886.50,268.23 L888.00,270.90 L889.50,273.55 L891.00,276.19 L892.50,278.80 L894.00,281.40 L895.50,283.98 L897.00,286.54 L898.50,289.08 L900.00,291.59 L901.50,294.08 L903.00,296.54 L904.50,298.98 L906.00,301.39 L907.50,303.77 L909.00,306.13 L910.50,308.45 L912.00,310.74 L913.50,313.00 L915.00,315.23 L916.50,317.43 L918.00,319.59 L919.50,321.72 L921.00,323.82 L922.50,325.88 L924.00,327.91 L925.50,329.90 L927.00,331.86 L928.50,333.78 L930.00,335.67 L931.50,337.53 L933.00,339.34 L934.50,341.13 L936.00,342.87 L937.50,344.59 L939.00,346.26 L940.50,347.90 L942.00,349.51 L943.50,351.08 L945.00,352.62 L946.50,354.13 L948.00,355.60 L949.50,357.03 L951.00,358.44 L952.50,359.81 L954.00,361.15 L955.50,362.46 L957.00,363.73 L958.50,364.98 L960.00,366.19 L961.50,367.37 L963.00,368.53 L964.50,369.65 L965.00,370.02" fill="none" stroke="#0B4D3E" stroke-width="1.25"/>
<path d="M745.00,85.01 L746.50,85.24 L748.00,85.49 L749.50,85.74 L751.00,86.00 L752.50,86.28 L754.00,86.56 L755.50,86.85 L757.00,87.16 L758.50,87.47 L760.00,87.80 L761.50,88.14 L763.00,88.49 L764.50,88.86 L766.00,89.24 L767.50,89.63 L769.00,90.04 L770.50,90.46 L772.00,90.90 L773.50,91.35 L775.00,91.82 L776.50,92.30 L778.00,92.81 L779.50,93.33 L781.00,93.87 L782.50,94.43 L784.00,95.01 L785.50,95.60 L787.00,96.23 L788.50,96.87 L790.00,97.53 L791.50,98.22 L793.00,98.93 L794.50,99.66 L796.00,100.42 L797.50,101.21 L799.00,102.02 L800.50,102.86 L802.00,103.73 L803.50,104.62 L805.00,105.55 L806.50,106.50 L808.00,107.49 L809.50,108.51 L811.00,109.56 L812.50,110.64 L814.00,111.76 L815.50,112.91 L817.00,114.10 L818.50,115.32 L820.00,116.58 L821.50,117.88 L823.00,119.22 L824.50,120.59 L826.00,122.01 L827.50,123.47 L829.00,124.96 L830.50,126.50 L832.00,128.08 L833.50,129.70 L835.00,131.37 L836.50,133.08 L838.00,134.83 L839.50,136.63 L841.00,138.47 L842.50,140.36 L844.00,142.29 L845.50,144.27 L847.00,146.30 L848.50,148.37 L850.00,150.48 L851.50,152.64 L853.00,154.85 L854.50,157.10 L856.00,159.40 L857.50,161.74 L859.00,164.12 L860.50,166.55 L862.00,169.02 L863.50,171.53 L865.00,174.08 L866.50,176.68 L868.00,179.31 L869.50,181.98 L871.00,184.69 L872.50,187.43 L874.00,190.21 L875.50,193.02 L877.00,195.86 L878.50,198.73 L880.00,201.63 L881.50,204.55 L883.00,207.50 L884.50,210.47 L886.00,213.47 L887.50,216.48 L889.00,219.50 L890.50,222.54 L892.00,225.60 L893.50,228.66 L895.00,231.73 L896.50,234.81 L898.00,237.89 L899.50,240.97 L901.00,244.05 L902.50,247.12 L904.00,250.19 L905.50,253.25 L907.00,256.30 L908.50,259.34 L910.00,262.37 L911.50,265.37 L913.00,268.36 L914.50,271.33 L916.00,274.27 L917.50,277.19 L919.00,280.08 L920.50,282.95 L922.00,285.78 L923.50,288.59 L925.00,291.36 L926.50,294.09 L928.00,296.79 L929.50,299.45 L931.00,302.08 L932.50,304.66 L934.00,307.21 L935.50,309.71 L937.00,312.17 L938.50,314.59 L940.00,316.96 L941.50,319.29 L943.00,321.58 L944.50,323.82 L946.00,326.02 L947.50,328.17 L949.00,330.28 L950.50,332.34 L952.00,334.35 L953.50,336.32 L955.00,338.24 L956.50,340.12 L958.00,341.95 L959.50,343.74 L961.00,345.49 L962.50,347.19 L964.00,348.84 L965.50,350.46 L967.00,352.03 L968.50,353.56 L970.00,355.05 L971.50,356.49 L973.00,357.90 L974.50,359.27 L976.00,360.60 L977.50,361.89 L979.00,363.14 L980.50,364.35 L982.00,365.53 L983.50,366.68 L985.00,367.79 L986.50,368.87 L988.00,369.91 L989.50,370.92 L990.00,371.25" fill="none" stroke="#9C94E0" stroke-width="1.25"/>
<path d="M795.00,89.62 L796.50,89.79 L798.00,89.96 L799.50,90.14 L801.00,90.32 L802.50,90.52 L804.00,90.73 L805.50,90.95 L807.00,91.18 L808.50,91.42 L810.00,91.67 L811.50,91.94 L813.00,92.21 L814.50,92.51 L816.00,92.81 L817.50,93.13 L819.00,93.47 L820.50,93.83 L822.00,94.20 L823.50,94.59 L825.00,94.99 L826.50,95.42 L828.00,95.87 L829.50,96.34 L831.00,96.83 L832.50,97.35 L834.00,97.89 L835.50,98.46 L837.00,99.05 L838.50,99.67 L840.00,100.32 L841.50,101.00 L843.00,101.72 L844.50,102.46 L846.00,103.24 L847.50,104.06 L849.00,104.91 L850.50,105.80 L852.00,106.73 L853.50,107.70 L855.00,108.72 L856.50,109.77 L858.00,110.88 L859.50,112.03 L861.00,113.23 L862.50,114.48 L864.00,115.78 L865.50,117.14 L867.00,118.55 L868.50,120.02 L870.00,121.55 L871.50,123.14 L873.00,124.78 L874.50,126.50 L876.00,128.27 L877.50,130.11 L879.00,132.02 L880.50,133.99 L882.00,136.04 L883.50,138.15 L885.00,140.33 L886.50,142.59 L888.00,144.91 L889.50,147.31 L891.00,149.78 L892.50,152.33 L894.00,154.94 L895.50,157.63 L897.00,160.39 L898.50,163.22 L900.00,166.12 L901.50,169.09 L903.00,172.13 L904.50,175.23 L906.00,178.40 L907.50,181.62 L909.00,184.91 L910.50,188.26 L912.00,191.65 L913.50,195.10 L915.00,198.60 L916.50,202.14 L918.00,205.72 L919.50,209.33 L921.00,212.98 L922.50,216.66 L924.00,220.36 L925.50,224.08 L927.00,227.81 L928.50,231.56 L930.00,235.31 L931.50,239.06 L933.00,242.80 L934.50,246.54 L936.00,250.26 L937.50,253.97 L939.00,257.65 L940.50,261.31 L942.00,264.93 L943.50,268.52 L945.00,272.07 L946.50,275.57 L948.00,279.03 L949.50,282.44 L951.00,285.80 L952.50,289.10 L954.00,292.34 L955.50,295.52 L957.00,298.64 L958.50,301.69 L960.00,304.68 L961.50,307.59 L963.00,310.44 L964.50,313.22 L966.00,315.92 L967.50,318.56 L969.00,321.12 L970.50,323.60 L972.00,326.02 L973.50,328.36 L975.00,330.63 L976.50,332.83 L978.00,334.96 L979.50,337.02 L981.00,339.01 L982.50,340.94 L984.00,342.79 L985.50,344.58 L987.00,346.31 L988.50,347.97 L990.00,349.57 L991.50,351.11 L993.00,352.60 L994.50,354.02 L996.00,355.39 L997.50,356.71 L999.00,357.97 L1000.50,359.18 L1002.00,360.34 L1003.50,361.46 L1005.00,362.53 L1006.50,363.55 L1008.00,364.53 L1009.50,365.47 L1011.00,366.37 L1012.50,367.23 L1014.00,368.06 L1015.50,368.84 L1017.00,369.60 L1018.50,370.32 L1020.00,371.01 L1021.50,371.66 L1023.00,372.29 L1024.50,372.89 L1026.00,373.46 L1027.50,374.01 L1029.00,374.53 L1030.00,374.87" fill="none" stroke="#18A428" stroke-width="1.25"/>
<path d="M794.90,79.10V93.10M792.90,79.10h4M792.90,93.10h4" stroke="#18A428" stroke-opacity="0.35" stroke-width="0.8" fill="none"/>
<path d="M695.90,82.00V92.00M693.90,82.00h4M693.90,92.00h4" stroke="#E8601A" stroke-opacity="0.35" stroke-width="0.8" fill="none"/>
<path d="M744.50,87.00V97.00M742.50,87.00h4M742.50,97.00h4" stroke="#25B5E8" stroke-opacity="0.35" stroke-width="0.8" fill="none"/>
<polygon points="621.20,86.55 625.55,90.90 621.20,95.25 616.85,90.90" fill="#F25A6E"/>
<polygon points="671.90,106.85 676.25,111.20 671.90,115.55 667.55,111.20" fill="#F25A6E"/>
<polygon points="721.50,133.95 725.85,138.30 721.50,142.65 717.15,138.30" fill="#F25A6E"/>
<polygon points="743.60,196.05 747.95,200.40 743.60,204.75 739.25,200.40" fill="#F25A6E"/>
<polygon points="771.70,231.55 776.05,235.90 771.70,240.25 767.35,235.90" fill="#F25A6E"/>
<polygon points="794.80,273.85 799.15,278.20 794.80,282.55 790.45,278.20" fill="#F25A6E"/>
<polygon points="818.50,320.25 822.85,324.60 818.50,328.95 814.15,324.60" fill="#F25A6E"/>
<polygon points="843.50,346.85 847.85,351.20 843.50,355.55 839.15,351.20" fill="#F25A6E"/>
<polygon points="867.00,363.65 871.35,368.00 867.00,372.35 862.65,368.00" fill="#F25A6E"/>
<polygon points="616.61,101.50 623.50,97.52 623.50,105.48" fill="#1F6FE0"/>
<polygon points="667.31,154.40 674.20,150.42 674.20,158.38" fill="#1F6FE0"/>
<polygon points="716.91,182.30 723.80,178.32 723.80,186.28" fill="#1F6FE0"/>
<polygon points="739.01,212.20 745.90,208.22 745.90,216.18" fill="#1F6FE0"/>
<polygon points="766.51,253.60 773.40,249.62 773.40,257.58" fill="#1F6FE0"/>
<polygon points="790.21,284.10 797.10,280.12 797.10,288.08" fill="#1F6FE0"/>
<polygon points="813.91,327.60 820.80,323.62 820.80,331.58" fill="#1F6FE0"/>
<polygon points="838.91,362.90 845.80,358.92 845.80,366.88" fill="#1F6FE0"/>
<polygon points="862.41,373.00 869.30,369.02 869.30,376.98" fill="#1F6FE0"/>
<polygon points="887.11,370.70 894.00,366.72 894.00,374.68" fill="#1F6FE0"/>
<circle cx="744.70" cy="131.60" r="3.77" fill="#2B2BE0"/>
<circle cx="771.20" cy="168.40" r="3.77" fill="#2B2BE0"/>
<circle cx="819.20" cy="200.10" r="3.77" fill="#2B2BE0"/>
<circle cx="843.80" cy="240.70" r="3.77" fill="#2B2BE0"/>
<circle cx="867.50" cy="274.70" r="3.77" fill="#2B2BE0"/>
<circle cx="891.70" cy="330.00" r="3.77" fill="#2B2BE0"/>
<circle cx="916.30" cy="351.70" r="3.77" fill="#2B2BE0"/>
<circle cx="939.80" cy="368.00" r="3.77" fill="#2B2BE0"/>
<polygon points="744.70,138.11 748.68,145.00 740.72,145.00" fill="#1FA3A3"/>
<polygon points="771.20,177.11 775.18,184.00 767.22,184.00" fill="#1FA3A3"/>
<polygon points="819.20,212.41 823.18,219.30 815.22,219.30" fill="#1FA3A3"/>
<polygon points="843.80,245.81 847.78,252.70 839.82,252.70" fill="#1FA3A3"/>
<polygon points="867.50,285.41 871.48,292.30 863.52,292.30" fill="#1FA3A3"/>
<polygon points="891.70,330.41 895.68,337.30 887.72,337.30" fill="#1FA3A3"/>
<polygon points="916.30,352.41 920.28,359.30 912.32,359.30" fill="#1FA3A3"/>
<polygon points="939.80,365.41 943.78,372.30 935.82,372.30" fill="#1FA3A3"/>
<polygon points="700.49,97.30 693.60,101.28 693.60,93.32" fill="#25B5E8"/>
<polygon points="749.09,92.00 742.20,95.98 742.20,88.02" fill="#25B5E8"/>
<polygon points="799.49,148.80 792.60,152.78 792.60,144.82" fill="#25B5E8"/>
<polygon points="824.09,176.00 817.20,179.98 817.20,172.02" fill="#25B5E8"/>
<polygon points="848.39,234.70 841.50,238.68 841.50,230.72" fill="#25B5E8"/>
<polygon points="872.09,283.60 865.20,287.58 865.20,279.62" fill="#25B5E8"/>
<polygon points="896.29,314.70 889.40,318.68 889.40,310.72" fill="#25B5E8"/>
<polygon points="920.89,357.30 914.00,361.28 914.00,353.32" fill="#25B5E8"/>
<polygon points="944.39,370.70 937.50,374.68 937.50,366.72" fill="#25B5E8"/>
<polygon points="725.85,97.95 722.30,100.00 718.75,97.95 718.75,93.85 722.30,91.80 725.85,93.85" fill="#F0B400"/>
<polygon points="798.45,145.35 794.90,147.40 791.35,145.35 791.35,141.25 794.90,139.20 798.45,141.25" fill="#F0B400"/>
<polygon points="823.05,188.55 819.50,190.60 815.95,188.55 815.95,184.45 819.50,182.40 823.05,184.45" fill="#F0B400"/>
<polygon points="861.25,235.35 857.70,237.40 854.15,235.35 854.15,231.25 857.70,229.20 861.25,231.25" fill="#F0B400"/>
<polygon points="895.85,287.05 892.30,289.10 888.75,287.05 888.75,282.95 892.30,280.90 895.85,282.95" fill="#F0B400"/>
<polygon points="931.75,311.15 928.20,313.20 924.65,311.15 924.65,307.05 928.20,305.00 931.75,307.05" fill="#F0B400"/>
<polygon points="968.05,359.35 964.50,361.40 960.95,359.35 960.95,355.25 964.50,353.20 968.05,355.25" fill="#F0B400"/>
<polygon points="1002.75,373.85 999.20,375.90 995.65,373.85 995.65,369.75 999.20,367.70 1002.75,369.75" fill="#F0B400"/>
<polygon points="722.30,82.83 723.50,86.25 727.14,86.34 724.25,88.54 725.29,92.02 722.30,89.96 719.31,92.02 720.35,88.54 717.46,86.34 721.10,86.25" fill="#2F6CA6"/>
<polygon points="744.70,91.33 745.90,94.75 749.54,94.84 746.65,97.04 747.69,100.52 744.70,98.46 741.71,100.52 742.75,97.04 739.86,94.84 743.50,94.75" fill="#2F6CA6"/>
<polygon points="771.20,88.83 772.40,92.25 776.04,92.34 773.15,94.54 774.19,98.02 771.20,95.96 768.21,98.02 769.25,94.54 766.36,92.34 770.00,92.25" fill="#2F6CA6"/>
<polygon points="795.30,88.83 796.50,92.25 800.14,92.34 797.25,94.54 798.29,98.02 795.30,95.96 792.31,98.02 793.35,94.54 790.46,92.34 794.10,92.25" fill="#2F6CA6"/>
<polygon points="819.50,120.53 820.70,123.95 824.34,124.04 821.45,126.24 822.49,129.72 819.50,127.66 816.51,129.72 817.55,126.24 814.66,124.04 818.30,123.95" fill="#2F6CA6"/>
<polygon points="858.50,176.23 859.70,179.65 863.34,179.74 860.45,181.94 861.49,185.42 858.50,183.36 855.51,185.42 856.55,181.94 853.66,179.74 857.30,179.65" fill="#2F6CA6"/>
<polygon points="891.70,230.93 892.90,234.35 896.54,234.44 893.65,236.64 894.69,240.12 891.70,238.06 888.71,240.12 889.75,236.64 886.86,234.44 890.50,234.35" fill="#2F6CA6"/>
<polygon points="927.80,284.83 929.00,288.25 932.64,288.34 929.75,290.54 930.79,294.02 927.80,291.96 924.81,294.02 925.85,290.54 922.96,288.34 926.60,288.25" fill="#2F6CA6"/>
<polygon points="999.20,347.03 1000.40,350.45 1004.04,350.54 1001.15,352.74 1002.19,356.22 999.20,354.16 996.21,356.22 997.25,352.74 994.36,350.54 998.00,350.45" fill="#2F6CA6"/>
<polygon points="695.90,91.59 691.92,84.70 699.88,84.70" fill="#E8601A"/>
<polygon points="771.20,92.59 767.22,85.70 775.18,85.70" fill="#E8601A"/>
<polygon points="794.90,129.79 790.92,122.90 798.88,122.90" fill="#E8601A"/>
<polygon points="843.20,177.99 839.22,171.10 847.18,171.10" fill="#E8601A"/>
<polygon points="915.90,328.29 911.92,321.40 919.88,321.40" fill="#E8601A"/>
<polygon points="964.50,366.39 960.52,359.50 968.48,359.50" fill="#E8601A"/>
<polygon points="988.00,370.79 984.02,363.90 991.98,363.90" fill="#E8601A"/>
<circle cx="671.90" cy="94.50" r="3.77" fill="#0B4D3E"/>
<circle cx="744.70" cy="88.90" r="3.77" fill="#0B4D3E"/>
<circle cx="771.20" cy="90.30" r="3.77" fill="#0B4D3E"/>
<circle cx="794.90" cy="129.90" r="3.77" fill="#0B4D3E"/>
<circle cx="819.50" cy="155.00" r="3.77" fill="#0B4D3E"/>
<circle cx="843.80" cy="200.10" r="3.77" fill="#0B4D3E"/>
<circle cx="868.00" cy="225.90" r="3.77" fill="#0B4D3E"/>
<circle cx="892.30" cy="279.10" r="3.77" fill="#0B4D3E"/>
<circle cx="915.90" cy="311.40" r="3.77" fill="#0B4D3E"/>
<circle cx="939.80" cy="350.60" r="3.77" fill="#0B4D3E"/>
<circle cx="964.50" cy="369.60" r="3.77" fill="#0B4D3E"/>
<rect x="816.22" y="110.72" width="6.56" height="6.56" fill="#9C94E0"/>
<rect x="839.92" y="142.82" width="6.56" height="6.56" fill="#9C94E0"/>
<rect x="864.42" y="178.42" width="6.56" height="6.56" fill="#9C94E0"/>
<rect x="888.42" y="212.82" width="6.56" height="6.56" fill="#9C94E0"/>
<rect x="912.12" y="270.82" width="6.56" height="6.56" fill="#9C94E0"/>
<rect x="936.52" y="311.42" width="6.56" height="6.56" fill="#9C94E0"/>
<rect x="984.72" y="367.42" width="6.56" height="6.56" fill="#9C94E0"/>
<polygon points="798.45,88.15 794.90,90.20 791.35,88.15 791.35,84.05 794.90,82.00 798.45,84.05" fill="#18A428"/>
<polygon points="823.05,92.95 819.50,95.00 815.95,92.95 815.95,88.85 819.50,86.80 823.05,88.85" fill="#18A428"/>
<polygon points="862.05,119.65 858.50,121.70 854.95,119.65 854.95,115.55 858.50,113.50 862.05,115.55" fill="#18A428"/>
<polygon points="931.35,225.85 927.80,227.90 924.25,225.85 924.25,221.75 927.80,219.70 931.35,221.75" fill="#18A428"/>
<polygon points="968.05,319.65 964.50,321.70 960.95,319.65 960.95,315.55 964.50,313.50 968.05,315.55" fill="#18A428"/>
<polygon points="1002.75,360.45 999.20,362.50 995.65,360.45 995.65,356.35 999.20,354.30 1002.75,356.35" fill="#18A428"/>
<polygon points="1032.95,375.05 1029.40,377.10 1025.85,375.05 1025.85,370.95 1029.40,368.90 1032.95,370.95" fill="#18A428"/>
</g>
<rect x="969.88" y="88.08" width="6.23" height="6.23" fill="#9C94E0"/>
<text transform="translate(990.4,95.10) scale(1,1.05)" font-size="12.5">NIC</text>
<circle cx="973.00" cy="106.70" r="3.58" fill="#2B2BE0"/>
<text transform="translate(990.4,110.60) scale(1,1.05)" font-size="12.5">M-N-1</text>
<polygon points="973.00,117.84 976.78,124.38 969.22,124.38" fill="#1FA3A3"/>
<text transform="translate(990.4,126.10) scale(1,1.05)" font-size="12.5">M-N-2</text>
<polygon points="973.00,142.06 969.22,135.52 976.78,135.52" fill="#E8601A"/>
<text transform="translate(990.4,141.60) scale(1,1.05)" font-size="12.5">M-N-3</text>
<polygon points="973.00,149.07 977.13,153.20 973.00,157.33 968.87,153.20" fill="#F25A6E"/>
<text transform="translate(990.4,157.10) scale(1,1.05)" font-size="12.5">M-N-4</text>
<polygon points="968.64,168.70 975.18,164.92 975.18,172.48" fill="#1F6FE0"/>
<text transform="translate(990.4,172.60) scale(1,1.05)" font-size="12.5">M-N-5</text>
<polygon points="977.36,184.20 970.82,187.98 970.82,180.42" fill="#25B5E8"/>
<text transform="translate(990.4,188.10) scale(1,1.05)" font-size="12.5">M-N-6</text>
<polygon points="976.37,201.65 973.00,203.59 969.63,201.65 969.63,197.75 973.00,195.80 976.37,197.75" fill="#F0B400"/>
<text transform="translate(990.4,203.60) scale(1,1.05)" font-size="12.5">M-N-7</text>
<polygon points="973.00,210.76 974.14,214.01 977.59,214.10 974.85,216.19 975.84,219.50 973.00,217.54 970.16,219.50 971.15,216.19 968.41,214.10 971.86,214.01" fill="#2F6CA6"/>
<text transform="translate(990.4,219.10) scale(1,1.05)" font-size="12.5">M-N-8</text>
<polygon points="976.37,232.65 973.00,234.59 969.63,232.65 969.63,228.75 973.00,226.80 976.37,228.75" fill="#18A428"/>
<text transform="translate(990.4,234.60) scale(1,1.05)" font-size="12.5">M-N-9</text>
<circle cx="973.00" cy="246.20" r="3.58" fill="#0B4D3E"/>
<text transform="translate(990.4,250.10) scale(1,1.05)" font-size="12.5">Analog</text>
<rect x="610.9" y="68.4" width="426.60" height="315.90" fill="none" stroke="#2a2a2a" stroke-width="1.5"/>
<path d="M605.40,375.90H610.90 M605.40,341.72H610.90 M605.40,307.54H610.90 M605.40,273.36H610.90 M605.40,239.18H610.90 M605.40,205.00H610.90 M605.40,170.82H610.90 M605.40,136.64H610.90 M605.40,102.46H610.90 M605.40,68.28H610.90 M607.90,358.81H610.90 M607.90,324.63H610.90 M607.90,290.45H610.90 M607.90,256.27H610.90 M607.90,222.09H610.90 M607.90,187.91H610.90 M607.90,153.73H610.90 M607.90,119.55H610.90 M607.90,85.37H610.90 M636.70,384.30V389.80 M687.20,384.30V389.80 M737.70,384.30V389.80 M788.20,384.30V389.80 M838.70,384.30V389.80 M889.20,384.30V389.80 M939.70,384.30V389.80 M990.20,384.30V389.80 M616.60,384.30V387.30 M621.50,384.30V387.30 M625.50,384.30V387.30 M628.88,384.30V387.30 M631.81,384.30V387.30 M634.39,384.30V387.30 M651.90,384.30V387.30 M660.79,384.30V387.30 M667.10,384.30V387.30 M672.00,384.30V387.30 M676.00,384.30V387.30 M679.38,384.30V387.30 M682.31,384.30V387.30 M684.89,384.30V387.30 M702.40,384.30V387.30 M711.29,384.30V387.30 M717.60,384.30V387.30 M722.50,384.30V387.30 M726.50,384.30V387.30 M729.88,384.30V387.30 M732.81,384.30V387.30 M735.39,384.30V387.30 M752.90,384.30V387.30 M761.79,384.30V387.30 M768.10,384.30V387.30 M773.00,384.30V387.30 M777.00,384.30V387.30 M780.38,384.30V387.30 M783.31,384.30V387.30 M785.89,384.30V387.30 M803.40,384.30V387.30 M812.29,384.30V387.30 M818.60,384.30V387.30 M823.50,384.30V387.30 M827.50,384.30V387.30 M830.88,384.30V387.30 M833.81,384.30V387.30 M836.39,384.30V387.30 M853.90,384.30V387.30 M862.79,384.30V387.30 M869.10,384.30V387.30 M874.00,384.30V387.30 M878.00,384.30V387.30 M881.38,384.30V387.30 M884.31,384.30V387.30 M886.89,384.30V387.30 M904.40,384.30V387.30 M913.29,384.30V387.30 M919.60,384.30V387.30 M924.50,384.30V387.30 M928.50,384.30V387.30 M931.88,384.30V387.30 M934.81,384.30V387.30 M937.39,384.30V387.30 M954.90,384.30V387.30 M963.79,384.30V387.30 M970.10,384.30V387.30 M975.00,384.30V387.30 M979.00,384.30V387.30 M982.38,384.30V387.30 M985.31,384.30V387.30 M987.89,384.30V387.30 M1005.40,384.30V387.30 M1014.29,384.30V387.30 M1020.60,384.30V387.30 M1025.50,384.30V387.30 M1029.50,384.30V387.30 M1032.88,384.30V387.30 M1035.81,384.30V387.30" stroke="#2a2a2a" stroke-width="1.2" fill="none"/>
<text transform="translate(600.70,381.00) scale(1,1.05)" font-size="16.3" text-anchor="end">0.0</text>
<text transform="translate(600.70,346.82) scale(1,1.05)" font-size="16.3" text-anchor="end">0.2</text>
<text transform="translate(600.70,312.64) scale(1,1.05)" font-size="16.3" text-anchor="end">0.4</text>
<text transform="translate(600.70,278.46) scale(1,1.05)" font-size="16.3" text-anchor="end">0.6</text>
<text transform="translate(600.70,244.28) scale(1,1.05)" font-size="16.3" text-anchor="end">0.8</text>
<text transform="translate(600.70,210.10) scale(1,1.05)" font-size="16.3" text-anchor="end">1.0</text>
<text transform="translate(600.70,175.92) scale(1,1.05)" font-size="16.3" text-anchor="end">1.2</text>
<text transform="translate(600.70,141.74) scale(1,1.05)" font-size="16.3" text-anchor="end">1.4</text>
<text transform="translate(600.70,107.56) scale(1,1.05)" font-size="16.3" text-anchor="end">1.6</text>
<text transform="translate(600.70,73.38) scale(1,1.05)" font-size="16.3" text-anchor="end">1.8</text>
<text transform="translate(624.06,407.90) scale(1,1.1)" font-size="16.1">10<tspan font-size="11.0" dy="-6.80">-3</tspan></text>
<text transform="translate(674.56,407.90) scale(1,1.1)" font-size="16.1">10<tspan font-size="11.0" dy="-6.80">-2</tspan></text>
<text transform="translate(725.06,407.90) scale(1,1.1)" font-size="16.1">10<tspan font-size="11.0" dy="-6.80">-1</tspan></text>
<text transform="translate(777.39,407.90) scale(1,1.1)" font-size="16.1">10<tspan font-size="11.0" dy="-6.80">0</tspan></text>
<text transform="translate(827.89,407.90) scale(1,1.1)" font-size="16.1">10<tspan font-size="11.0" dy="-6.80">1</tspan></text>
<text transform="translate(878.39,407.90) scale(1,1.1)" font-size="16.1">10<tspan font-size="11.0" dy="-6.80">2</tspan></text>
<text transform="translate(928.89,407.90) scale(1,1.1)" font-size="16.1">10<tspan font-size="11.0" dy="-6.80">3</tspan></text>
<text transform="translate(979.39,407.90) scale(1,1.1)" font-size="16.1">10<tspan font-size="11.0" dy="-6.80">4</tspan></text>
<text transform="translate(554.1,39.9) scale(1,1.03)" font-size="31" text-anchor="middle">(b)</text>
<text transform="translate(827.5,437.85) scale(1,1.07)" font-size="30.8" text-anchor="middle">Concentration of analyte (nM)</text>
<text transform="translate(569.4,224.8) rotate(-90) scale(1,1.07)" font-size="30.8" text-anchor="middle">OD Values</text>
<clipPath id="cc"><rect x="1129.8" y="65.0" width="423.9000000000001" height="315.8"/></clipPath>
<g clip-path="url(#cc)">
<path d="M1137.00,359.25 L1138.50,359.01 L1140.00,358.76 L1141.50,358.50 L1143.00,358.24 L1144.50,357.97 L1146.00,357.68 L1147.50,357.39 L1149.00,357.08 L1150.50,356.77 L1152.00,356.44 L1153.50,356.11 L1155.00,355.76 L1156.50,355.40 L1158.00,355.03 L1159.50,354.64 L1161.00,354.24 L1162.50,353.83 L1164.00,353.41 L1165.50,352.97 L1167.00,352.51 L1168.50,352.04 L1170.00,351.56 L1171.50,351.06 L1173.00,350.54 L1174.50,350.01 L1176.00,349.46 L1177.50,348.89 L1179.00,348.30 L1180.50,347.69 L1182.00,347.07 L1183.50,346.42 L1185.00,345.76 L1186.50,345.07 L1188.00,344.36 L1189.50,343.63 L1191.00,342.88 L1192.50,342.11 L1194.00,341.31 L1195.50,340.49 L1197.00,339.65 L1198.50,338.78 L1200.00,337.88 L1201.50,336.96 L1203.00,336.01 L1204.50,335.04 L1206.00,334.04 L1207.50,333.01 L1209.00,331.96 L1210.50,330.87 L1212.00,329.76 L1213.50,328.62 L1215.00,327.45 L1216.50,326.24 L1218.00,325.01 L1219.50,323.75 L1221.00,322.46 L1222.50,321.13 L1224.00,319.78 L1225.50,318.39 L1227.00,316.98 L1228.50,315.53 L1230.00,314.05 L1231.50,312.53 L1233.00,310.99 L1234.50,309.42 L1236.00,307.81 L1237.50,306.17 L1239.00,304.50 L1240.50,302.80 L1242.00,301.07 L1243.50,299.31 L1245.00,297.52 L1246.50,295.70 L1248.00,293.86 L1249.50,291.98 L1251.00,290.08 L1252.50,288.15 L1254.00,286.19 L1255.50,284.21 L1257.00,282.21 L1258.50,280.18 L1260.00,278.13 L1261.50,276.06 L1263.00,273.97 L1264.50,271.86 L1266.00,269.73 L1267.50,267.58 L1269.00,265.42 L1270.50,263.25 L1272.00,261.06 L1273.50,258.86 L1275.00,256.65 L1276.50,254.43 L1278.00,252.21 L1279.50,249.98 L1281.00,247.74 L1282.50,245.51 L1284.00,243.27 L1285.50,241.03 L1287.00,238.79 L1288.50,236.56 L1290.00,234.33 L1291.50,232.11 L1293.00,229.90 L1294.50,227.69 L1296.00,225.50 L1297.50,223.31 L1299.00,221.15 L1300.50,218.99 L1302.00,216.85 L1303.50,214.73 L1305.00,212.63 L1306.50,210.55 L1308.00,208.48 L1309.50,206.44 L1311.00,204.43 L1312.50,202.43 L1314.00,200.46 L1315.50,198.52 L1317.00,196.60 L1318.50,194.71 L1320.00,192.85 L1321.50,191.01 L1323.00,189.20 L1324.50,187.43 L1326.00,185.68 L1327.50,183.96 L1329.00,182.28 L1330.50,180.62 L1332.00,179.00 L1333.50,177.41 L1335.00,175.84 L1336.50,174.31 L1338.00,172.82 L1339.50,171.35 L1341.00,169.91 L1342.50,168.51 L1344.00,167.14 L1345.50,165.80 L1347.00,164.49 L1348.50,163.21 L1350.00,161.96 L1351.50,160.74 L1353.00,159.55 L1354.50,158.39 L1356.00,157.26 L1357.50,156.16 L1359.00,155.09 L1360.50,154.05 L1362.00,153.03 L1363.50,152.04 L1365.00,151.08 L1366.50,150.15 L1368.00,149.24 L1369.50,148.35 L1371.00,147.49 L1372.50,146.66 L1374.00,145.85 L1375.50,145.06 L1377.00,144.30 L1378.50,143.56 L1380.00,142.84 L1381.50,142.14 L1383.00,141.46 L1384.50,140.81 L1386.00,140.17 L1387.50,139.55 L1389.00,138.96 L1390.50,138.38 L1392.00,137.81 L1393.50,137.27 L1395.00,136.74 L1396.50,136.23 L1398.00,135.74 L1399.50,135.26 L1401.00,134.80 L1402.50,134.35 L1404.00,133.92 L1405.50,133.50 L1407.00,133.09 L1408.50,132.70 L1410.00,132.32 L1411.50,131.95 L1413.00,131.60 L1414.50,131.26 L1416.00,130.93 L1417.50,130.60 L1419.00,130.29 L1420.50,130.00 L1422.00,129.71 L1423.50,129.43 L1425.00,129.16 L1426.50,128.89 L1428.00,128.64 L1429.50,128.40 L1431.00,128.16 L1432.50,127.94 L1434.00,127.72 L1435.50,127.50 L1437.00,127.30 L1438.50,127.10 L1440.00,126.91 L1441.50,126.73 L1443.00,126.55 L1444.50,126.38 L1446.00,126.21 L1447.50,126.05 L1449.00,125.90 L1450.50,125.75 L1452.00,125.60 L1453.50,125.46 L1455.00,125.33 L1456.50,125.20 L1458.00,125.08 L1459.50,124.96 L1461.00,124.84 L1462.50,124.73 L1464.00,124.62 L1465.50,124.51 L1467.00,124.41 L1468.50,124.32 L1470.00,124.22 L1471.50,124.13 L1472.00,124.10" fill="none" stroke="#F0B400" stroke-width="1.2"/>
<path d="M1137.00,360.56 L1138.50,360.47 L1140.00,360.38 L1141.50,360.29 L1143.00,360.19 L1144.50,360.09 L1146.00,359.99 L1147.50,359.88 L1149.00,359.77 L1150.50,359.65 L1152.00,359.52 L1153.50,359.39 L1155.00,359.26 L1156.50,359.12 L1158.00,358.97 L1159.50,358.82 L1161.00,358.66 L1162.50,358.49 L1164.00,358.32 L1165.50,358.14 L1167.00,357.95 L1168.50,357.76 L1170.00,357.55 L1171.50,357.34 L1173.00,357.12 L1174.50,356.89 L1176.00,356.65 L1177.50,356.40 L1179.00,356.14 L1180.50,355.87 L1182.00,355.58 L1183.50,355.29 L1185.00,354.98 L1186.50,354.66 L1188.00,354.33 L1189.50,353.98 L1191.00,353.62 L1192.50,353.25 L1194.00,352.86 L1195.50,352.46 L1197.00,352.03 L1198.50,351.60 L1200.00,351.14 L1201.50,350.67 L1203.00,350.17 L1204.50,349.66 L1206.00,349.13 L1207.50,348.57 L1209.00,348.00 L1210.50,347.40 L1212.00,346.78 L1213.50,346.14 L1215.00,345.47 L1216.50,344.78 L1218.00,344.06 L1219.50,343.31 L1221.00,342.54 L1222.50,341.74 L1224.00,340.90 L1225.50,340.04 L1227.00,339.15 L1228.50,338.22 L1230.00,337.27 L1231.50,336.28 L1233.00,335.25 L1234.50,334.19 L1236.00,333.09 L1237.50,331.96 L1239.00,330.79 L1240.50,329.58 L1242.00,328.33 L1243.50,327.04 L1245.00,325.71 L1246.50,324.34 L1248.00,322.93 L1249.50,321.47 L1251.00,319.97 L1252.50,318.43 L1254.00,316.84 L1255.50,315.21 L1257.00,313.54 L1258.50,311.81 L1260.00,310.05 L1261.50,308.23 L1263.00,306.38 L1264.50,304.47 L1266.00,302.52 L1267.50,300.53 L1269.00,298.49 L1270.50,296.40 L1272.00,294.27 L1273.50,292.10 L1275.00,289.88 L1276.50,287.63 L1278.00,285.33 L1279.50,282.99 L1281.00,280.61 L1282.50,278.19 L1284.00,275.74 L1285.50,273.25 L1287.00,270.73 L1288.50,268.17 L1290.00,265.59 L1291.50,262.97 L1293.00,260.33 L1294.50,257.67 L1296.00,254.98 L1297.50,252.28 L1299.00,249.55 L1300.50,246.82 L1302.00,244.06 L1303.50,241.30 L1305.00,238.53 L1306.50,235.75 L1308.00,232.97 L1309.50,230.19 L1311.00,227.41 L1312.50,224.64 L1314.00,221.87 L1315.50,219.12 L1317.00,216.37 L1318.50,213.64 L1320.00,210.92 L1321.50,208.23 L1323.00,205.55 L1324.50,202.90 L1326.00,200.28 L1327.50,197.68 L1329.00,195.11 L1330.50,192.57 L1332.00,190.07 L1333.50,187.60 L1335.00,185.17 L1336.50,182.77 L1338.00,180.41 L1339.50,178.09 L1341.00,175.82 L1342.50,173.58 L1344.00,171.39 L1345.50,169.24 L1347.00,167.13 L1348.50,165.07 L1350.00,163.06 L1351.50,161.09 L1353.00,159.16 L1354.50,157.28 L1356.00,155.45 L1357.50,153.66 L1359.00,151.92 L1360.50,150.22 L1362.00,148.57 L1363.50,146.96 L1365.00,145.40 L1366.50,143.88 L1368.00,142.40 L1369.50,140.97 L1371.00,139.58 L1372.50,138.23 L1374.00,136.93 L1375.50,135.66 L1377.00,134.43 L1378.50,133.24 L1380.00,132.09 L1381.50,130.98 L1383.00,129.90 L1384.50,128.86 L1386.00,127.85 L1387.50,126.88 L1389.00,125.94 L1390.50,125.03 L1392.00,124.16 L1393.50,123.31 L1395.00,122.49 L1396.50,121.71 L1398.00,120.95 L1399.50,120.22 L1401.00,119.51 L1402.50,118.83 L1404.00,118.18 L1405.50,117.55 L1407.00,116.94 L1408.50,116.35 L1410.00,115.79 L1411.50,115.25 L1413.00,114.73 L1414.50,114.23 L1416.00,113.74 L1417.50,113.28 L1419.00,112.83 L1420.50,112.40 L1422.00,111.99 L1423.50,111.59 L1425.00,111.21 L1426.50,110.85 L1428.00,110.49 L1429.50,110.16 L1431.00,109.83 L1432.50,109.52 L1434.00,109.22 L1435.50,108.93 L1437.00,108.65 L1438.50,108.39 L1440.00,108.13 L1441.50,107.89 L1443.00,107.65 L1444.50,107.43 L1446.00,107.21 L1447.50,107.00 L1449.00,106.80 L1450.50,106.61 L1452.00,106.43 L1453.50,106.25 L1455.00,106.08 L1456.50,105.92 L1458.00,105.77 L1459.50,105.62 L1461.00,105.47 L1462.50,105.34 L1464.00,105.20 L1465.50,105.08 L1467.00,104.96 L1468.50,104.84 L1470.00,104.73 L1471.50,104.62 L1472.00,104.59" fill="none" stroke="#1F5F8F" stroke-width="1.2"/>
<path d="M1137.00,360.21 L1138.50,360.12 L1140.00,360.02 L1141.50,359.93 L1143.00,359.82 L1144.50,359.72 L1146.00,359.61 L1147.50,359.49 L1149.00,359.38 L1150.50,359.25 L1152.00,359.12 L1153.50,358.99 L1155.00,358.85 L1156.50,358.71 L1158.00,358.56 L1159.50,358.40 L1161.00,358.24 L1162.50,358.07 L1164.00,357.90 L1165.50,357.72 L1167.00,357.53 L1168.50,357.33 L1170.00,357.13 L1171.50,356.92 L1173.00,356.70 L1174.50,356.47 L1176.00,356.23 L1177.50,355.99 L1179.00,355.73 L1180.50,355.47 L1182.00,355.19 L1183.50,354.91 L1185.00,354.61 L1186.50,354.31 L1188.00,353.99 L1189.50,353.66 L1191.00,353.32 L1192.50,352.96 L1194.00,352.60 L1195.50,352.22 L1197.00,351.82 L1198.50,351.41 L1200.00,350.99 L1201.50,350.55 L1203.00,350.10 L1204.50,349.63 L1206.00,349.14 L1207.50,348.64 L1209.00,348.12 L1210.50,347.58 L1212.00,347.03 L1213.50,346.45 L1215.00,345.86 L1216.50,345.25 L1218.00,344.61 L1219.50,343.96 L1221.00,343.29 L1222.50,342.59 L1224.00,341.87 L1225.50,341.13 L1227.00,340.37 L1228.50,339.58 L1230.00,338.77 L1231.50,337.94 L1233.00,337.08 L1234.50,336.20 L1236.00,335.29 L1237.50,334.36 L1239.00,333.40 L1240.50,332.41 L1242.00,331.40 L1243.50,330.37 L1245.00,329.30 L1246.50,328.21 L1248.00,327.10 L1249.50,325.96 L1251.00,324.79 L1252.50,323.59 L1254.00,322.37 L1255.50,321.12 L1257.00,319.84 L1258.50,318.54 L1260.00,317.22 L1261.50,315.86 L1263.00,314.49 L1264.50,313.09 L1266.00,311.66 L1267.50,310.21 L1269.00,308.74 L1270.50,307.25 L1272.00,305.73 L1273.50,304.20 L1275.00,302.64 L1276.50,301.07 L1278.00,299.47 L1279.50,297.87 L1281.00,296.24 L1282.50,294.60 L1284.00,292.95 L1285.50,291.28 L1287.00,289.61 L1288.50,287.92 L1290.00,286.23 L1291.50,284.53 L1293.00,282.82 L1294.50,281.11 L1296.00,279.39 L1297.50,277.68 L1299.00,275.96 L1300.50,274.24 L1302.00,272.53 L1303.50,270.82 L1305.00,269.12 L1306.50,267.42 L1308.00,265.73 L1309.50,264.05 L1311.00,262.38 L1312.50,260.72 L1314.00,259.07 L1315.50,257.44 L1317.00,255.83 L1318.50,254.23 L1320.00,252.64 L1321.50,251.08 L1323.00,249.54 L1324.50,248.01 L1326.00,246.51 L1327.50,245.03 L1329.00,243.57 L1330.50,242.13 L1332.00,240.72 L1333.50,239.33 L1335.00,237.97 L1336.50,236.63 L1338.00,235.31 L1339.50,234.03 L1341.00,232.77 L1342.50,231.53 L1344.00,230.32 L1345.50,229.14 L1347.00,227.99 L1348.50,226.86 L1350.00,225.76 L1351.50,224.68 L1353.00,223.63 L1354.50,222.61 L1356.00,221.62 L1357.50,220.65 L1359.00,219.70 L1360.50,218.78 L1362.00,217.89 L1363.50,217.02 L1365.00,216.17 L1366.50,215.35 L1368.00,214.56 L1369.50,213.78 L1371.00,213.03 L1372.50,212.30 L1374.00,211.60 L1375.50,210.91 L1377.00,210.25 L1378.50,209.61 L1380.00,208.99 L1381.50,208.38 L1383.00,207.80 L1384.50,207.24 L1386.00,206.69 L1387.50,206.16 L1389.00,205.65 L1390.50,205.16 L1392.00,204.68 L1393.50,204.22 L1395.00,203.78 L1396.50,203.35 L1398.00,202.93 L1399.50,202.53 L1401.00,202.14 L1402.50,201.77 L1404.00,201.41 L1405.50,201.06 L1407.00,200.73 L1408.50,200.40 L1410.00,200.09 L1411.50,199.79 L1413.00,199.50 L1414.50,199.22 L1416.00,198.95 L1417.50,198.70 L1419.00,198.45 L1420.50,198.21 L1422.00,197.97 L1423.50,197.75 L1425.00,197.54 L1426.50,197.33 L1428.00,197.13 L1429.50,196.94 L1431.00,196.75 L1432.50,196.58 L1434.00,196.40 L1435.50,196.24 L1437.00,196.08 L1438.50,195.93 L1440.00,195.78 L1441.00,195.69" fill="none" stroke="#30C0E6" stroke-width="1.2"/>
<path d="M1137.00,359.46 L1138.50,359.41 L1140.00,359.35 L1141.50,359.30 L1143.00,359.24 L1144.50,359.18 L1146.00,359.12 L1147.50,359.06 L1149.00,359.00 L1150.50,358.93 L1152.00,358.86 L1153.50,358.79 L1155.00,358.72 L1156.50,358.65 L1158.00,358.57 L1159.50,358.49 L1161.00,358.41 L1162.50,358.33 L1164.00,358.24 L1165.50,358.15 L1167.00,358.06 L1168.50,357.97 L1170.00,357.87 L1171.50,357.77 L1173.00,357.66 L1174.50,357.56 L1176.00,357.45 L1177.50,357.33 L1179.00,357.22 L1180.50,357.10 L1182.00,356.97 L1183.50,356.85 L1185.00,356.71 L1186.50,356.58 L1188.00,356.44 L1189.50,356.29 L1191.00,356.15 L1192.50,355.99 L1194.00,355.84 L1195.50,355.67 L1197.00,355.51 L1198.50,355.34 L1200.00,355.16 L1201.50,354.98 L1203.00,354.79 L1204.50,354.60 L1206.00,354.40 L1207.50,354.19 L1209.00,353.98 L1210.50,353.76 L1212.00,353.54 L1213.50,353.31 L1215.00,353.07 L1216.50,352.82 L1218.00,352.57 L1219.50,352.31 L1221.00,352.05 L1222.50,351.77 L1224.00,351.49 L1225.50,351.20 L1227.00,350.90 L1228.50,350.59 L1230.00,350.27 L1231.50,349.94 L1233.00,349.61 L1234.50,349.26 L1236.00,348.91 L1237.50,348.54 L1239.00,348.16 L1240.50,347.77 L1242.00,347.37 L1243.50,346.96 L1245.00,346.54 L1246.50,346.11 L1248.00,345.66 L1249.50,345.20 L1251.00,344.73 L1252.50,344.24 L1254.00,343.74 L1255.50,343.23 L1257.00,342.70 L1258.50,342.16 L1260.00,341.60 L1261.50,341.03 L1263.00,340.44 L1264.50,339.84 L1266.00,339.21 L1267.50,338.57 L1269.00,337.92 L1270.50,337.24 L1272.00,336.55 L1273.50,335.84 L1275.00,335.11 L1276.50,334.36 L1278.00,333.60 L1279.50,332.81 L1281.00,332.00 L1282.50,331.17 L1284.00,330.31 L1285.50,329.44 L1287.00,328.54 L1288.50,327.62 L1290.00,326.68 L1291.50,325.71 L1293.00,324.72 L1294.50,323.71 L1296.00,322.67 L1297.50,321.60 L1299.00,320.51 L1300.50,319.39 L1302.00,318.25 L1303.50,317.08 L1305.00,315.88 L1306.50,314.65 L1308.00,313.39 L1309.50,312.11 L1311.00,310.80 L1312.50,309.45 L1314.00,308.08 L1315.50,306.68 L1317.00,305.24 L1318.50,303.78 L1320.00,302.28 L1321.50,300.76 L1323.00,299.20 L1324.50,297.61 L1326.00,295.98 L1327.50,294.33 L1329.00,292.64 L1330.50,290.92 L1332.00,289.17 L1333.50,287.38 L1335.00,285.56 L1336.50,283.71 L1338.00,281.82 L1339.50,279.90 L1341.00,277.95 L1342.50,275.97 L1344.00,273.95 L1345.50,271.90 L1347.00,269.81 L1348.50,267.70 L1350.00,265.55 L1351.50,263.37 L1353.00,261.16 L1354.50,258.92 L1356.00,256.65 L1357.50,254.34 L1359.00,252.01 L1360.50,249.65 L1362.00,247.26 L1363.50,244.84 L1365.00,242.39 L1366.50,239.92 L1368.00,237.42 L1369.50,234.89 L1371.00,232.34 L1372.50,229.77 L1374.00,227.18 L1375.50,224.56 L1377.00,221.92 L1378.50,219.26 L1380.00,216.59 L1381.50,213.89 L1383.00,211.18 L1384.50,208.46 L1386.00,205.72 L1387.50,202.96 L1389.00,200.20 L1390.50,197.42 L1392.00,194.64 L1393.50,191.84 L1395.00,189.04 L1396.50,186.23 L1398.00,183.42 L1399.50,180.61 L1401.00,177.79 L1402.50,174.98 L1404.00,172.16 L1405.50,169.35 L1407.00,166.54 L1408.50,163.73 L1410.00,160.93 L1411.50,158.14 L1413.00,155.36 L1414.50,152.58 L1416.00,149.82 L1417.50,147.07 L1419.00,144.34 L1420.50,141.61 L1422.00,138.91 L1423.50,136.22 L1425.00,133.55 L1426.50,130.90 L1428.00,128.27 L1429.50,125.66 L1431.00,123.07 L1432.50,120.50 L1434.00,117.96 L1435.50,115.44 L1437.00,112.95 L1438.50,110.49 L1440.00,108.05 L1441.50,105.64 L1443.00,103.25 L1444.50,100.90 L1446.00,98.58 L1447.50,96.28 L1449.00,94.02 L1450.50,91.79 L1452.00,89.58 L1453.50,87.41 L1455.00,85.28 L1456.50,83.17 L1458.00,81.10 L1459.50,79.06 L1461.00,77.05 L1462.50,75.07 L1464.00,73.13 L1465.50,71.22 L1467.00,69.35 L1468.50,67.50 L1470.00,65.69 L1471.50,63.92 L1473.00,62.17 L1474.50,60.46 L1475.00,59.90" fill="none" stroke="#1EA898" stroke-width="1.2"/>
<path d="M1321.00,358.94 L1322.50,358.92 L1324.00,358.91 L1325.50,358.89 L1327.00,358.86 L1328.50,358.84 L1330.00,358.81 L1331.50,358.78 L1333.00,358.75 L1334.50,358.71 L1336.00,358.68 L1337.50,358.63 L1339.00,358.58 L1340.50,358.53 L1342.00,358.47 L1343.50,358.41 L1345.00,358.34 L1346.50,358.26 L1348.00,358.17 L1349.50,358.08 L1351.00,357.97 L1352.50,357.86 L1354.00,357.73 L1355.50,357.59 L1357.00,357.44 L1358.50,357.27 L1360.00,357.08 L1361.50,356.88 L1363.00,356.66 L1364.50,356.41 L1366.00,356.14 L1367.50,355.84 L1369.00,355.52 L1370.50,355.17 L1372.00,354.78 L1373.50,354.35 L1375.00,353.89 L1376.50,353.38 L1378.00,352.83 L1379.50,352.23 L1381.00,351.57 L1382.50,350.86 L1384.00,350.09 L1385.50,349.25 L1387.00,348.34 L1388.50,347.37 L1390.00,346.31 L1391.50,345.18 L1393.00,343.97 L1394.50,342.67 L1396.00,341.29 L1397.50,339.81 L1399.00,338.25 L1400.50,336.60 L1402.00,334.86 L1403.50,333.03 L1405.00,331.12 L1406.50,329.13 L1408.00,327.06 L1409.50,324.93 L1411.00,322.73 L1412.50,320.48 L1414.00,318.18 L1415.50,315.85 L1417.00,313.50 L1418.50,311.14 L1420.00,308.77 L1421.50,306.42 L1423.00,304.08 L1424.50,301.79 L1426.00,299.53 L1427.50,297.33 L1429.00,295.18 L1430.50,293.11 L1432.00,291.11 L1433.50,289.19 L1435.00,287.35 L1436.50,285.60 L1438.00,283.94 L1439.50,282.37 L1441.00,280.89 L1442.50,279.49 L1444.00,278.19 L1445.50,276.97 L1447.00,275.83 L1448.50,274.77 L1450.00,273.78 L1451.50,272.87 L1453.00,272.03 L1454.50,271.25 L1456.00,270.53 L1457.50,269.87 L1459.00,269.26 L1460.50,268.70 L1462.00,268.19 L1463.50,267.72 L1465.00,267.29 L1466.50,266.90 L1468.00,266.54 L1469.50,266.22 L1471.00,265.92 L1472.50,265.65 L1474.00,265.40 L1475.50,265.17 L1477.00,264.97 L1478.50,264.78 L1480.00,264.61 L1481.50,264.45 L1483.00,264.31 L1484.50,264.19 L1486.00,264.07 L1487.50,263.96 L1489.00,263.87 L1490.00,263.81" fill="none" stroke="#1A75E0" stroke-width="1.2"/>
<path d="M1435.10,357.52 L1436.60,357.52 L1438.10,357.52 L1439.60,357.51 L1441.10,357.51 L1442.60,357.50 L1444.10,357.50 L1445.60,357.49 L1447.10,357.49 L1448.60,357.48 L1450.10,357.47 L1451.60,357.47 L1453.10,357.46 L1454.60,357.45 L1456.10,357.44 L1457.60,357.43 L1459.10,357.42 L1460.60,357.41 L1462.10,357.39 L1463.60,357.38 L1465.10,357.37 L1466.60,357.35 L1468.10,357.33 L1469.60,357.32 L1471.10,357.30 L1472.60,357.28 L1474.10,357.26 L1475.60,357.24 L1477.10,357.22 L1478.60,357.20 L1480.10,357.18 L1481.60,357.15 L1483.10,357.13 L1484.60,357.11 L1486.10,357.08 L1487.60,357.06 L1489.10,357.04 L1490.60,357.01 L1492.10,356.99 L1493.60,356.97 L1495.10,356.95 L1496.60,356.93 L1498.10,356.91 L1499.60,356.89 L1501.10,356.87 L1502.60,356.85 L1504.10,356.83 L1505.60,356.82 L1507.10,356.80 L1508.60,356.79 L1510.10,356.77 L1511.60,356.76 L1513.10,356.75 L1514.60,356.74 L1516.10,356.73 L1517.60,356.72 L1519.10,356.71 L1520.60,356.70 L1522.10,356.69 L1523.60,356.68 L1525.10,356.68 L1526.60,356.67 L1528.10,356.67 L1529.60,356.66 L1531.10,356.66 L1532.60,356.65 L1534.10,356.65 L1535.60,356.65 L1537.10,356.64 L1538.60,356.64 L1540.10,356.64 L1541.60,356.63 L1543.10,356.63 L1544.60,356.63 L1545.70,356.63" fill="none" stroke="#D4A800" stroke-width="1.1"/>
<path d="M1435.10,358.60 L1436.60,358.60 L1438.10,358.60 L1439.60,358.60 L1441.10,358.60 L1442.60,358.60 L1444.10,358.60 L1445.60,358.60 L1447.10,358.60 L1448.60,358.60 L1450.10,358.60 L1451.60,358.60 L1453.10,358.60 L1454.60,358.60 L1456.10,358.60 L1457.60,358.60 L1459.10,358.60 L1460.60,358.60 L1462.10,358.60 L1463.60,358.60 L1465.10,358.60 L1466.60,358.60 L1468.10,358.60 L1469.60,358.60 L1471.10,358.60 L1472.60,358.60 L1474.10,358.60 L1475.60,358.60 L1477.10,358.60 L1478.60,358.60 L1480.10,358.60 L1481.60,358.60 L1483.10,358.60 L1484.60,358.60 L1486.10,358.60 L1487.60,358.60 L1489.10,358.60 L1490.60,358.60 L1492.10,358.60 L1493.60,358.60 L1495.10,358.60 L1496.60,358.60 L1498.10,358.60 L1499.60,358.60 L1501.10,358.60 L1502.60,358.60 L1504.10,358.60 L1505.60,358.60 L1507.10,358.60 L1508.60,358.60 L1510.10,358.60 L1511.60,358.60 L1513.10,358.60 L1514.60,358.60 L1516.10,358.60 L1517.60,358.60 L1519.10,358.60 L1520.60,358.60 L1522.10,358.60 L1523.60,358.60 L1525.10,358.60 L1526.60,358.60 L1528.10,358.60 L1529.60,358.60 L1531.10,358.60 L1532.60,358.60 L1534.10,358.60 L1535.60,358.60 L1537.10,358.60 L1538.60,358.60 L1540.10,358.60 L1541.60,358.60 L1543.10,358.60 L1544.60,358.60 L1545.70,358.60" fill="none" stroke="#A09CE0" stroke-width="1.1"/>
<path d="M1435.10,356.51 L1436.60,356.51 L1438.10,356.51 L1439.60,356.51 L1441.10,356.51 L1442.60,356.51 L1444.10,356.51 L1445.60,356.51 L1447.10,356.51 L1448.60,356.51 L1450.10,356.51 L1451.60,356.51 L1453.10,356.51 L1454.60,356.51 L1456.10,356.51 L1457.60,356.51 L1459.10,356.51 L1460.60,356.50 L1462.10,356.50 L1463.60,356.50 L1465.10,356.50 L1466.60,356.49 L1468.10,356.49 L1469.60,356.48 L1471.10,356.48 L1472.60,356.47 L1474.10,356.46 L1475.60,356.45 L1477.10,356.43 L1478.60,356.41 L1480.10,356.38 L1481.60,356.35 L1483.10,356.31 L1484.60,356.27 L1486.10,356.21 L1487.60,356.14 L1489.10,356.05 L1490.60,355.95 L1492.10,355.83 L1493.60,355.68 L1495.10,355.52 L1496.60,355.34 L1498.10,355.13 L1499.60,354.91 L1501.10,354.68 L1502.60,354.43 L1504.10,354.19 L1505.60,353.95 L1507.10,353.71 L1508.60,353.50 L1510.10,353.30 L1511.60,353.12 L1513.10,352.97 L1514.60,352.83 L1516.10,352.72 L1517.60,352.62 L1519.10,352.54 L1520.60,352.48 L1522.10,352.42 L1523.60,352.38 L1525.10,352.34 L1526.60,352.31 L1528.10,352.29 L1529.60,352.27 L1531.10,352.25 L1532.60,352.24 L1534.10,352.23 L1535.60,352.22 L1537.10,352.22 L1538.60,352.21 L1540.10,352.21 L1541.60,352.20 L1543.10,352.20 L1544.60,352.20 L1545.70,352.20" fill="none" stroke="#0B4D3E" stroke-width="1.1"/>
<path d="M1435.10,356.50 L1436.60,356.50 L1438.10,356.50 L1439.60,356.50 L1441.10,356.50 L1442.60,356.50 L1444.10,356.49 L1445.60,356.49 L1447.10,356.48 L1448.60,356.48 L1450.10,356.47 L1451.60,356.46 L1453.10,356.45 L1454.60,356.44 L1456.10,356.42 L1457.60,356.40 L1459.10,356.37 L1460.60,356.34 L1462.10,356.30 L1463.60,356.25 L1465.10,356.19 L1466.60,356.11 L1468.10,356.01 L1469.60,355.89 L1471.10,355.74 L1472.60,355.55 L1474.10,355.33 L1475.60,355.05 L1477.10,354.72 L1478.60,354.33 L1480.10,353.86 L1481.60,353.30 L1483.10,352.66 L1484.60,351.93 L1486.10,351.11 L1487.60,350.21 L1489.10,349.25 L1490.60,348.23 L1492.10,347.19 L1493.60,346.15 L1495.10,345.13 L1496.60,344.17 L1498.10,343.27 L1499.60,342.45 L1501.10,341.72 L1502.60,341.08 L1504.10,340.53 L1505.60,340.06 L1507.10,339.66 L1508.60,339.33 L1510.10,339.06 L1511.60,338.83 L1513.10,338.65 L1514.60,338.50 L1516.10,338.38 L1517.60,338.28 L1519.10,338.20 L1520.60,338.14 L1522.10,338.08 L1523.60,338.04 L1525.10,338.01 L1526.60,337.98 L1528.10,337.96 L1529.60,337.95 L1531.10,337.93 L1532.60,337.92 L1534.10,337.91 L1535.60,337.91 L1537.10,337.90 L1538.60,337.90 L1540.10,337.89 L1541.60,337.89 L1543.10,337.89 L1544.60,337.89 L1545.70,337.88" fill="none" stroke="#1EA898" stroke-width="1.1"/>
<path d="M1435.10,356.48 L1436.60,356.47 L1438.10,356.47 L1439.60,356.47 L1441.10,356.47 L1442.60,356.47 L1444.10,356.47 L1445.60,356.47 L1447.10,356.46 L1448.60,356.46 L1450.10,356.46 L1451.60,356.45 L1453.10,356.45 L1454.60,356.44 L1456.10,356.43 L1457.60,356.42 L1459.10,356.41 L1460.60,356.39 L1462.10,356.38 L1463.60,356.36 L1465.10,356.33 L1466.60,356.30 L1468.10,356.27 L1469.60,356.23 L1471.10,356.18 L1472.60,356.12 L1474.10,356.05 L1475.60,355.97 L1477.10,355.88 L1478.60,355.76 L1480.10,355.63 L1481.60,355.48 L1483.10,355.30 L1484.60,355.10 L1486.10,354.86 L1487.60,354.60 L1489.10,354.30 L1490.60,353.97 L1492.10,353.61 L1493.60,353.21 L1495.10,352.79 L1496.60,352.35 L1498.10,351.89 L1499.60,351.42 L1501.10,350.95 L1502.60,350.48 L1504.10,350.03 L1505.60,349.60 L1507.10,349.19 L1508.60,348.81 L1510.10,348.46 L1511.60,348.15 L1513.10,347.87 L1514.60,347.62 L1516.10,347.40 L1517.60,347.21 L1519.10,347.04 L1520.60,346.90 L1522.10,346.78 L1523.60,346.68 L1525.10,346.59 L1526.60,346.51 L1528.10,346.45 L1529.60,346.40 L1531.10,346.35 L1532.60,346.31 L1534.10,346.28 L1535.60,346.26 L1537.10,346.23 L1538.60,346.22 L1540.10,346.20 L1541.60,346.19 L1543.10,346.18 L1544.60,346.17 L1545.70,346.16" fill="none" stroke="#1426E8" stroke-width="1.1"/>
<path d="M1435.10,355.26 L1436.60,355.26 L1438.10,355.26 L1439.60,355.26 L1441.10,355.26 L1442.60,355.26 L1444.10,355.26 L1445.60,355.26 L1447.10,355.26 L1448.60,355.26 L1450.10,355.26 L1451.60,355.26 L1453.10,355.26 L1454.60,355.25 L1456.10,355.25 L1457.60,355.25 L1459.10,355.24 L1460.60,355.24 L1462.10,355.23 L1463.60,355.22 L1465.10,355.20 L1466.60,355.18 L1468.10,355.16 L1469.60,355.12 L1471.10,355.08 L1472.60,355.02 L1474.10,354.94 L1475.60,354.84 L1477.10,354.70 L1478.60,354.53 L1480.10,354.30 L1481.60,354.00 L1483.10,353.62 L1484.60,353.14 L1486.10,352.53 L1487.60,351.79 L1489.10,350.89 L1490.60,349.82 L1492.10,348.60 L1493.60,347.24 L1495.10,345.77 L1496.60,344.26 L1498.10,342.76 L1499.60,341.33 L1501.10,340.01 L1502.60,338.84 L1504.10,337.82 L1505.60,336.98 L1507.10,336.28 L1508.60,335.72 L1510.10,335.27 L1511.60,334.92 L1513.10,334.65 L1514.60,334.44 L1516.10,334.28 L1517.60,334.15 L1519.10,334.06 L1520.60,333.99 L1522.10,333.93 L1523.60,333.89 L1525.10,333.86 L1526.60,333.84 L1528.10,333.82 L1529.60,333.81 L1531.10,333.80 L1532.60,333.79 L1534.10,333.78 L1535.60,333.78 L1537.10,333.78 L1538.60,333.77 L1540.10,333.77 L1541.60,333.77 L1543.10,333.77 L1544.60,333.77 L1545.70,333.77" fill="none" stroke="#E8701A" stroke-width="1.1"/>
<path d="M1435.10,355.11 L1436.60,355.07 L1438.10,355.02 L1439.60,354.97 L1441.10,354.91 L1442.60,354.84 L1444.10,354.77 L1445.60,354.69 L1447.10,354.60 L1448.60,354.50 L1450.10,354.39 L1451.60,354.27 L1453.10,354.13 L1454.60,353.98 L1456.10,353.81 L1457.60,353.62 L1459.10,353.42 L1460.60,353.19 L1462.10,352.95 L1463.60,352.67 L1465.10,352.37 L1466.60,352.05 L1468.10,351.69 L1469.60,351.31 L1471.10,350.89 L1472.60,350.43 L1474.10,349.94 L1475.60,349.42 L1477.10,348.86 L1478.60,348.27 L1480.10,347.63 L1481.60,346.97 L1483.10,346.27 L1484.60,345.54 L1486.10,344.79 L1487.60,344.01 L1489.10,343.21 L1490.60,342.40 L1492.10,341.58 L1493.60,340.75 L1495.10,339.92 L1496.60,339.10 L1498.10,338.29 L1499.60,337.49 L1501.10,336.71 L1502.60,335.96 L1504.10,335.24 L1505.60,334.54 L1507.10,333.88 L1508.60,333.25 L1510.10,332.66 L1511.60,332.10 L1513.10,331.58 L1514.60,331.09 L1516.10,330.64 L1517.60,330.22 L1519.10,329.84 L1520.60,329.48 L1522.10,329.16 L1523.60,328.86 L1525.10,328.59 L1526.60,328.34 L1528.10,328.12 L1529.60,327.92 L1531.10,327.73 L1532.60,327.56 L1534.10,327.41 L1535.60,327.28 L1537.10,327.16 L1538.60,327.05 L1540.10,326.95 L1541.60,326.86 L1543.10,326.78 L1544.60,326.70 L1545.70,326.66" fill="none" stroke="#F25A6A" stroke-width="1.1"/>
<path d="M1471.40,79.40V93.40M1469.40,79.40h4M1469.40,93.40h4" stroke="#1CA7A7" stroke-opacity="0.35" stroke-width="0.8" fill="none"/>
<path d="M1414.30,113.90V121.90M1412.30,113.90h4M1412.30,121.90h4" stroke="#1F5F8F" stroke-opacity="0.35" stroke-width="0.8" fill="none"/>
<path d="M1440.90,177.60V185.60M1438.90,177.60h4M1438.90,185.60h4" stroke="#30C0E6" stroke-opacity="0.35" stroke-width="0.8" fill="none"/>
<polygon points="1141.36,355.00 1134.97,358.69 1134.97,351.31" fill="#F0B400"/>
<polygon points="1179.96,354.00 1173.57,357.69 1173.57,350.31" fill="#F0B400"/>
<polygon points="1219.66,323.80 1213.27,327.49 1213.27,320.11" fill="#F0B400"/>
<polygon points="1256.66,269.20 1250.27,272.89 1250.27,265.51" fill="#F0B400"/>
<polygon points="1286.26,244.30 1279.87,247.99 1279.87,240.61" fill="#F0B400"/>
<polygon points="1310.86,222.30 1304.47,225.99 1304.47,218.61" fill="#F0B400"/>
<polygon points="1325.36,193.40 1318.97,197.09 1318.97,189.71" fill="#F0B400"/>
<polygon points="1391.96,175.90 1385.57,179.59 1385.57,172.21" fill="#F0B400"/>
<polygon points="1418.56,125.00 1412.17,128.69 1412.17,121.31" fill="#F0B400"/>
<polygon points="1445.66,107.90 1439.27,111.59 1439.27,104.21" fill="#F0B400"/>
<polygon points="1477.16,107.90 1470.77,111.59 1470.77,104.21" fill="#F0B400"/>
<polygon points="1140.39,360.40 1137.10,362.30 1133.81,360.40 1133.81,356.60 1137.10,354.70 1140.39,356.60" fill="#1F5F8F"/>
<polygon points="1178.99,360.40 1175.70,362.30 1172.41,360.40 1172.41,356.60 1175.70,354.70 1178.99,356.60" fill="#1F5F8F"/>
<polygon points="1217.39,346.00 1214.10,347.90 1210.81,346.00 1210.81,342.20 1214.10,340.30 1217.39,342.20" fill="#1F5F8F"/>
<polygon points="1255.99,319.80 1252.70,321.70 1249.41,319.80 1249.41,316.00 1252.70,314.10 1255.99,316.00" fill="#1F5F8F"/>
<polygon points="1283.49,283.60 1280.20,285.50 1276.91,283.60 1276.91,279.80 1280.20,277.90 1283.49,279.80" fill="#1F5F8F"/>
<polygon points="1309.89,239.90 1306.60,241.80 1303.31,239.90 1303.31,236.10 1306.60,234.20 1309.89,236.10" fill="#1F5F8F"/>
<polygon points="1324.39,204.70 1321.10,206.60 1317.81,204.70 1317.81,200.90 1321.10,199.00 1324.39,200.90" fill="#1F5F8F"/>
<polygon points="1390.99,156.00 1387.70,157.90 1384.41,156.00 1384.41,152.20 1387.70,150.30 1390.99,152.20" fill="#1F5F8F"/>
<polygon points="1417.59,119.80 1414.30,121.70 1411.01,119.80 1411.01,116.00 1414.30,114.10 1417.59,116.00" fill="#1F5F8F"/>
<polygon points="1444.69,98.90 1441.40,100.80 1438.11,98.90 1438.11,95.10 1441.40,93.20 1444.69,95.10" fill="#1F5F8F"/>
<polygon points="1209.84,347.20 1216.23,343.51 1216.23,350.89" fill="#30C0E6"/>
<polygon points="1249.24,323.00 1255.63,319.31 1255.63,326.69" fill="#30C0E6"/>
<polygon points="1275.94,288.20 1282.33,284.51 1282.33,291.89" fill="#30C0E6"/>
<polygon points="1301.24,273.50 1307.63,269.81 1307.63,277.19" fill="#30C0E6"/>
<polygon points="1317.14,254.30 1323.53,250.61 1323.53,257.99" fill="#30C0E6"/>
<polygon points="1409.14,186.40 1415.53,182.71 1415.53,190.09" fill="#30C0E6"/>
<polygon points="1436.64,181.60 1443.03,177.91 1443.03,185.29" fill="#30C0E6"/>
<polygon points="1175.70,354.17 1176.82,357.34 1180.18,357.42 1177.51,359.47 1178.47,362.69 1175.70,360.78 1172.93,362.69 1173.89,359.47 1171.22,357.42 1174.58,357.34" fill="#1EA898"/>
<polygon points="1214.10,354.17 1215.22,357.34 1218.58,357.42 1215.91,359.47 1216.87,362.69 1214.10,360.78 1211.33,362.69 1212.29,359.47 1209.62,357.42 1212.98,357.34" fill="#1EA898"/>
<polygon points="1252.70,334.77 1253.82,337.94 1257.18,338.02 1254.51,340.07 1255.47,343.29 1252.70,341.38 1249.93,343.29 1250.89,340.07 1248.22,338.02 1251.58,337.94" fill="#1EA898"/>
<polygon points="1279.80,312.77 1280.92,315.94 1284.28,316.02 1281.61,318.07 1282.57,321.29 1279.80,319.38 1277.03,321.29 1277.99,318.07 1275.32,316.02 1278.68,315.94" fill="#1EA898"/>
<polygon points="1306.80,301.77 1307.92,304.94 1311.28,305.02 1308.61,307.07 1309.57,310.29 1306.80,308.38 1304.03,310.29 1304.99,307.07 1302.32,305.02 1305.68,304.94" fill="#1EA898"/>
<polygon points="1321.20,289.07 1322.32,292.24 1325.68,292.32 1323.01,294.37 1323.97,297.59 1321.20,295.68 1318.43,297.59 1319.39,294.37 1316.72,292.32 1320.08,292.24" fill="#1EA898"/>
<polygon points="1376.40,249.37 1377.52,252.54 1380.88,252.62 1378.21,254.67 1379.17,257.89 1376.40,255.98 1373.63,257.89 1374.59,254.67 1371.92,252.62 1375.28,252.54" fill="#1EA898"/>
<polygon points="1387.60,224.27 1388.72,227.44 1392.08,227.52 1389.41,229.57 1390.37,232.79 1387.60,230.88 1384.83,232.79 1385.79,229.57 1383.12,227.52 1386.48,227.44" fill="#1EA898"/>
<polygon points="1441.40,82.97 1442.52,86.14 1445.88,86.22 1443.21,88.27 1444.17,91.49 1441.40,89.58 1438.63,91.49 1439.59,88.27 1436.92,86.22 1440.28,86.14" fill="#1EA898"/>
<circle cx="1137.10" cy="358.50" r="3.50" fill="#1CA7A7"/>
<circle cx="1175.70" cy="358.50" r="3.50" fill="#1CA7A7"/>
<circle cx="1471.40" cy="86.40" r="3.50" fill="#1CA7A7"/>
<polygon points="1321.40,354.07 1325.43,358.10 1321.40,362.13 1317.37,358.10" fill="#1A75E0"/>
<polygon points="1333.50,354.07 1337.53,358.10 1333.50,362.13 1329.47,358.10" fill="#1A75E0"/>
<polygon points="1360.40,354.07 1364.43,358.10 1360.40,362.13 1356.37,358.10" fill="#1A75E0"/>
<polygon points="1376.90,352.77 1380.93,356.80 1376.90,360.83 1372.87,356.80" fill="#1A75E0"/>
<polygon points="1394.20,337.57 1398.23,341.60 1394.20,345.63 1390.17,341.60" fill="#1A75E0"/>
<polygon points="1414.80,312.37 1418.83,316.40 1414.80,320.43 1410.77,316.40" fill="#1A75E0"/>
<polygon points="1431.30,292.27 1435.33,296.30 1431.30,300.33 1427.27,296.30" fill="#1A75E0"/>
<polygon points="1449.70,262.57 1453.73,266.60 1449.70,270.63 1445.67,266.60" fill="#1A75E0"/>
<polygon points="1471.70,264.77 1475.73,268.80 1471.70,272.83 1467.67,268.80" fill="#1A75E0"/>
<polygon points="1490.50,259.47 1494.53,263.50 1490.50,267.53 1486.47,263.50" fill="#1A75E0"/>
<circle cx="1435.10" cy="357.50" r="3.08" fill="#D4A800"/>
<circle cx="1449.90" cy="357.50" r="3.08" fill="#D4A800"/>
<circle cx="1471.80" cy="357.30" r="3.08" fill="#D4A800"/>
<circle cx="1489.80" cy="357.00" r="3.08" fill="#D4A800"/>
<circle cx="1508.60" cy="356.80" r="3.08" fill="#D4A800"/>
<circle cx="1527.10" cy="356.70" r="3.08" fill="#D4A800"/>
<circle cx="1545.70" cy="356.60" r="3.08" fill="#D4A800"/>
<circle cx="1435.10" cy="358.60" r="3.08" fill="#A09CE0"/>
<circle cx="1449.90" cy="358.60" r="3.08" fill="#A09CE0"/>
<circle cx="1471.80" cy="358.60" r="3.08" fill="#A09CE0"/>
<circle cx="1489.80" cy="358.60" r="3.08" fill="#A09CE0"/>
<circle cx="1508.60" cy="358.60" r="3.08" fill="#A09CE0"/>
<circle cx="1527.10" cy="358.60" r="3.08" fill="#A09CE0"/>
<circle cx="1545.70" cy="358.60" r="3.08" fill="#A09CE0"/>
<polygon points="1435.10,353.22 1438.60,355.76 1437.26,359.88 1432.94,359.88 1431.60,355.76" fill="#0B4D3E"/>
<polygon points="1449.90,353.22 1453.40,355.76 1452.06,359.88 1447.74,359.88 1446.40,355.76" fill="#0B4D3E"/>
<polygon points="1471.80,353.22 1475.30,355.76 1473.96,359.88 1469.64,359.88 1468.30,355.76" fill="#0B4D3E"/>
<polygon points="1489.80,352.72 1493.30,355.26 1491.96,359.38 1487.64,359.38 1486.30,355.26" fill="#0B4D3E"/>
<polygon points="1508.60,350.22 1512.10,352.76 1510.76,356.88 1506.44,356.88 1505.10,352.76" fill="#0B4D3E"/>
<polygon points="1527.10,349.02 1530.60,351.56 1529.26,355.68 1524.94,355.68 1523.60,351.56" fill="#0B4D3E"/>
<polygon points="1545.70,348.92 1549.20,351.46 1547.86,355.58 1543.54,355.58 1542.20,351.46" fill="#0B4D3E"/>
<circle cx="1435.10" cy="357.00" r="3.08" fill="#1EA898"/>
<circle cx="1449.90" cy="356.50" r="3.08" fill="#1EA898"/>
<circle cx="1471.80" cy="355.00" r="3.08" fill="#1EA898"/>
<circle cx="1489.80" cy="349.00" r="3.08" fill="#1EA898"/>
<circle cx="1508.60" cy="339.00" r="3.08" fill="#1EA898"/>
<circle cx="1527.10" cy="337.60" r="3.08" fill="#1EA898"/>
<circle cx="1545.70" cy="338.50" r="3.08" fill="#1EA898"/>
<rect x="1432.42" y="353.82" width="5.35" height="5.35" fill="#1426E8"/>
<rect x="1447.22" y="353.82" width="5.35" height="5.35" fill="#1426E8"/>
<rect x="1469.12" y="353.32" width="5.35" height="5.35" fill="#1426E8"/>
<rect x="1487.12" y="351.62" width="5.35" height="5.35" fill="#1426E8"/>
<rect x="1505.92" y="345.92" width="5.35" height="5.35" fill="#1426E8"/>
<rect x="1524.42" y="344.42" width="5.35" height="5.35" fill="#1426E8"/>
<rect x="1543.02" y="343.02" width="5.35" height="5.35" fill="#1426E8"/>
<polygon points="1435.10,352.25 1438.34,357.87 1431.86,357.87" fill="#E8701A"/>
<polygon points="1449.90,351.75 1453.14,357.37 1446.66,357.37" fill="#E8701A"/>
<polygon points="1471.80,350.25 1475.04,355.87 1468.56,355.87" fill="#E8701A"/>
<polygon points="1489.80,346.75 1493.04,352.37 1486.56,352.37" fill="#E8701A"/>
<polygon points="1508.60,331.95 1511.84,337.57 1505.36,337.57" fill="#E8701A"/>
<polygon points="1527.10,328.65 1530.34,334.27 1523.86,334.27" fill="#E8701A"/>
<polygon points="1545.70,331.45 1548.94,337.07 1542.46,337.07" fill="#E8701A"/>
<polygon points="1435.10,359.65 1431.86,354.03 1438.34,354.03" fill="#F25A6A"/>
<polygon points="1449.90,357.65 1446.66,352.03 1453.14,352.03" fill="#F25A6A"/>
<polygon points="1471.80,353.75 1468.56,348.13 1475.04,348.13" fill="#F25A6A"/>
<polygon points="1489.80,347.05 1486.56,341.43 1493.04,341.43" fill="#F25A6A"/>
<polygon points="1508.60,337.55 1505.36,331.93 1511.84,331.93" fill="#F25A6A"/>
<polygon points="1527.10,329.95 1523.86,324.33 1530.34,324.33" fill="#F25A6A"/>
<polygon points="1545.70,331.85 1542.46,326.23 1548.94,326.23" fill="#F25A6A"/>
</g>
<rect x="1149.51" y="74.51" width="5.78" height="5.78" fill="#1426E8"/>
<text transform="translate(1169,81.04) scale(1,1.05)" font-size="11.5">M-N-1</text>
<circle cx="1152.40" cy="92.37" r="3.32" fill="#1CA7A7"/>
<text transform="translate(1169,96.01) scale(1,1.05)" font-size="11.5">M-N-2</text>
<polygon points="1152.40,103.30 1155.90,109.36 1148.90,109.36" fill="#E8701A"/>
<text transform="translate(1169,110.98) scale(1,1.05)" font-size="11.5">M-N-3</text>
<polygon points="1152.40,126.35 1148.90,120.29 1155.90,120.29" fill="#F25A6A"/>
<text transform="translate(1169,125.95) scale(1,1.05)" font-size="11.5">M-N-4</text>
<polygon points="1152.40,133.45 1156.23,137.28 1152.40,141.11 1148.57,137.28" fill="#1A75E0"/>
<text transform="translate(1169,140.92) scale(1,1.05)" font-size="11.5">M-N-5</text>
<polygon points="1148.36,152.25 1154.42,148.75 1154.42,155.75" fill="#30C0E6"/>
<text transform="translate(1169,155.89) scale(1,1.05)" font-size="11.5">M-N-6</text>
<polygon points="1156.44,167.22 1150.38,170.72 1150.38,163.72" fill="#F0B400"/>
<text transform="translate(1169,170.86) scale(1,1.05)" font-size="11.5">M-N-7</text>
<polygon points="1155.53,184.00 1152.40,185.80 1149.27,184.00 1149.27,180.38 1152.40,178.58 1155.53,180.38" fill="#1F5F8F"/>
<text transform="translate(1169,185.83) scale(1,1.05)" font-size="11.5">M-N-8</text>
<polygon points="1152.40,193.04 1153.46,196.06 1156.66,196.14 1154.12,198.08 1155.03,201.14 1152.40,199.33 1149.77,201.14 1150.68,198.08 1148.14,196.14 1151.34,196.06" fill="#1EA898"/>
<text transform="translate(1169,200.80) scale(1,1.05)" font-size="11.5">M-N-9</text>
<polygon points="1152.40,208.59 1156.18,211.34 1154.73,215.78 1150.07,215.78 1148.62,211.34" fill="#0B4D3E"/>
<text transform="translate(1169,215.77) scale(1,1.05)" font-size="11.5">Analog</text>
<circle cx="1152.40" cy="227.10" r="3.32" fill="#D4A800"/>
<text transform="translate(1169,230.74) scale(1,1.05)" font-size="11.5">MEL</text>
<circle cx="1152.40" cy="242.07" r="3.32" fill="#A09CE0"/>
<text transform="translate(1169,245.71) scale(1,1.05)" font-size="11.5">NIC</text>
<rect x="1129.8" y="65.0" width="423.90" height="315.80" fill="none" stroke="#2a2a2a" stroke-width="1.5"/>
<path d="M1124.30,361.20H1129.80 M1124.30,312.63H1129.80 M1124.30,264.07H1129.80 M1124.30,215.50H1129.80 M1124.30,166.94H1129.80 M1124.30,118.38H1129.80 M1124.30,69.81H1129.80 M1126.80,336.92H1129.80 M1126.80,288.35H1129.80 M1126.80,239.79H1129.80 M1126.80,191.22H1129.80 M1126.80,142.66H1129.80 M1126.80,94.09H1129.80 M1140.90,380.80V386.30 M1179.50,380.80V386.30 M1218.10,380.80V386.30 M1256.70,380.80V386.30 M1295.30,380.80V386.30 M1333.90,380.80V386.30 M1372.50,380.80V386.30 M1411.10,380.80V386.30 M1449.70,380.80V386.30 M1488.30,380.80V386.30 M1526.90,380.80V386.30 M1132.34,380.80V383.80 M1134.92,380.80V383.80 M1137.16,380.80V383.80 M1139.13,380.80V383.80 M1152.52,380.80V383.80 M1159.32,380.80V383.80 M1164.14,380.80V383.80 M1167.88,380.80V383.80 M1170.94,380.80V383.80 M1173.52,380.80V383.80 M1175.76,380.80V383.80 M1177.73,380.80V383.80 M1191.12,380.80V383.80 M1197.92,380.80V383.80 M1202.74,380.80V383.80 M1206.48,380.80V383.80 M1209.54,380.80V383.80 M1212.12,380.80V383.80 M1214.36,380.80V383.80 M1216.33,380.80V383.80 M1229.72,380.80V383.80 M1236.52,380.80V383.80 M1241.34,380.80V383.80 M1245.08,380.80V383.80 M1248.14,380.80V383.80 M1250.72,380.80V383.80 M1252.96,380.80V383.80 M1254.93,380.80V383.80 M1268.32,380.80V383.80 M1275.12,380.80V383.80 M1279.94,380.80V383.80 M1283.68,380.80V383.80 M1286.74,380.80V383.80 M1289.32,380.80V383.80 M1291.56,380.80V383.80 M1293.53,380.80V383.80 M1306.92,380.80V383.80 M1313.72,380.80V383.80 M1318.54,380.80V383.80 M1322.28,380.80V383.80 M1325.34,380.80V383.80 M1327.92,380.80V383.80 M1330.16,380.80V383.80 M1332.13,380.80V383.80 M1345.52,380.80V383.80 M1352.32,380.80V383.80 M1357.14,380.80V383.80 M1360.88,380.80V383.80 M1363.94,380.80V383.80 M1366.52,380.80V383.80 M1368.76,380.80V383.80 M1370.73,380.80V383.80 M1384.12,380.80V383.80 M1390.92,380.80V383.80 M1395.74,380.80V383.80 M1399.48,380.80V383.80 M1402.54,380.80V383.80 M1405.12,380.80V383.80 M1407.36,380.80V383.80 M1409.33,380.80V383.80 M1422.72,380.80V383.80 M1429.52,380.80V383.80 M1434.34,380.80V383.80 M1438.08,380.80V383.80 M1441.14,380.80V383.80 M1443.72,380.80V383.80 M1445.96,380.80V383.80 M1447.93,380.80V383.80 M1461.32,380.80V383.80 M1468.12,380.80V383.80 M1472.94,380.80V383.80 M1476.68,380.80V383.80 M1479.74,380.80V383.80 M1482.32,380.80V383.80 M1484.56,380.80V383.80 M1486.53,380.80V383.80 M1499.92,380.80V383.80 M1506.72,380.80V383.80 M1511.54,380.80V383.80 M1515.28,380.80V383.80 M1518.34,380.80V383.80 M1520.92,380.80V383.80 M1523.16,380.80V383.80 M1525.13,380.80V383.80 M1538.52,380.80V383.80 M1545.32,380.80V383.80 M1550.14,380.80V383.80" stroke="#2a2a2a" stroke-width="1.2" fill="none"/>
<text transform="translate(1120.50,366.30) scale(1,1.05)" font-size="16.3" text-anchor="end">0.0</text>
<text transform="translate(1120.50,317.74) scale(1,1.05)" font-size="16.3" text-anchor="end">0.5</text>
<text transform="translate(1120.50,269.17) scale(1,1.05)" font-size="16.3" text-anchor="end">1.0</text>
<text transform="translate(1120.50,220.61) scale(1,1.05)" font-size="16.3" text-anchor="end">1.5</text>
<text transform="translate(1120.50,172.04) scale(1,1.05)" font-size="16.3" text-anchor="end">2.0</text>
<text transform="translate(1120.50,123.47) scale(1,1.05)" font-size="16.3" text-anchor="end">2.5</text>
<text transform="translate(1120.50,74.91) scale(1,1.05)" font-size="16.3" text-anchor="end">3.0</text>
<text transform="translate(1129.52,404.10) scale(1,1.1)" font-size="15.0">10<tspan font-size="10.2" dy="-6.60">-4</tspan></text>
<text transform="translate(1168.12,404.10) scale(1,1.1)" font-size="15.0">10<tspan font-size="10.2" dy="-6.60">-3</tspan></text>
<text transform="translate(1206.72,404.10) scale(1,1.1)" font-size="15.0">10<tspan font-size="10.2" dy="-6.60">-2</tspan></text>
<text transform="translate(1245.32,404.10) scale(1,1.1)" font-size="15.0">10<tspan font-size="10.2" dy="-6.60">-1</tspan></text>
<text transform="translate(1285.62,404.10) scale(1,1.1)" font-size="15.0">10<tspan font-size="10.2" dy="-6.60">0</tspan></text>
<text transform="translate(1324.22,404.10) scale(1,1.1)" font-size="15.0">10<tspan font-size="10.2" dy="-6.60">1</tspan></text>
<text transform="translate(1362.82,404.10) scale(1,1.1)" font-size="15.0">10<tspan font-size="10.2" dy="-6.60">2</tspan></text>
<text transform="translate(1401.42,404.10) scale(1,1.1)" font-size="15.0">10<tspan font-size="10.2" dy="-6.60">3</tspan></text>
<text transform="translate(1440.02,404.10) scale(1,1.1)" font-size="15.0">10<tspan font-size="10.2" dy="-6.60">4</tspan></text>
<text transform="translate(1478.62,404.10) scale(1,1.1)" font-size="15.0">10<tspan font-size="10.2" dy="-6.60">5</tspan></text>
<text transform="translate(1517.22,404.10) scale(1,1.1)" font-size="15.0">10<tspan font-size="10.2" dy="-6.60">6</tspan></text>
<text transform="translate(1085.5,39.4) scale(1,1.03)" font-size="31" text-anchor="middle">(c)</text>
<text transform="translate(1340.4,440.05) scale(1,1.07)" font-size="30.8" text-anchor="middle">Concentration of analyte (nM)</text>
<text transform="translate(1084.4,226.7) rotate(-90) scale(1,1.07)" font-size="30.8" text-anchor="middle">OD Values</text>
</svg></body></html>
